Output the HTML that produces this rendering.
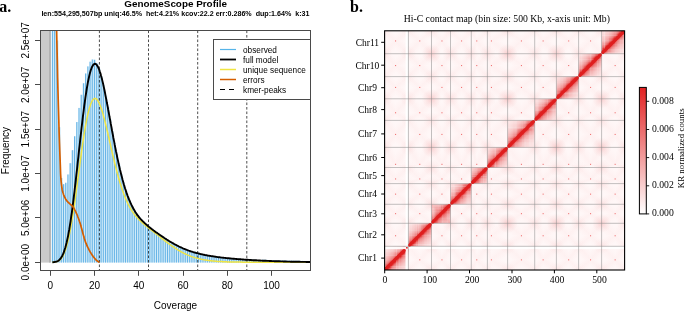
<!DOCTYPE html>
<html><head><meta charset="utf-8"><title>GenomeScope profile and Hi-C contact map</title>
<style>
html,body{margin:0;padding:0;background:#fff}
body{width:685px;height:311px;overflow:hidden}
svg text{fill:#000}
.s{font-family:"Liberation Sans",Arial,sans-serif;font-size:10px}
.t{font-family:"Liberation Sans",Arial,sans-serif;font-size:9.9px;font-weight:bold}
.u{font-family:"Liberation Sans",Arial,sans-serif;font-size:7.13px;font-weight:bold}
.l{font-family:"Liberation Sans",Arial,sans-serif;font-size:8.25px}
.a{font-family:"Liberation Sans",Arial,sans-serif;font-size:10px}
.p{font-family:"Liberation Serif","Times New Roman",serif;font-size:16px;font-weight:bold}
.r{font-family:"Liberation Serif","Times New Roman",serif;font-size:9.7px}
</style></head><body>
<svg width="685" height="311" viewBox="0 0 685 311" style="display:block;will-change:transform">
<rect width="685" height="311" fill="#fff"/>
<defs><clipPath id="ca"><rect x="40.5" y="30.5" width="270.1" height="239.9"/></clipPath></defs>
<g clip-path="url(#ca)">
<rect x="40.5" y="30.5" width="9.7" height="232.1" fill="#cbcbcb"/>
<rect x="49.3" y="30.5" width="1.5" height="232.1" fill="#a9a9a9"/>
<path d="M51.8,262.6 L51.8,28.5 L54.0,28.5 L54.0,28.5 L56.2,28.5 L56.2,40.5 L58.5,40.5 L58.5,127.2 L60.7,127.2 L60.7,178.0 L62.9,178.0 L62.9,184.2 L65.1,184.2 L65.1,182.8 L67.3,182.8 L67.3,174.5 L69.5,174.5 L69.5,163.2 L71.7,163.2 L71.7,150.2 L74.0,150.2 L74.0,136.3 L76.2,136.3 L76.2,122.1 L78.4,122.1 L78.4,107.9 L80.6,107.9 L80.6,94.8 L82.8,94.8 L82.8,83.3 L85.0,83.3 L85.0,73.5 L87.2,73.5 L87.2,66.4 L89.5,66.4 L89.5,61.7 L91.7,61.7 L91.7,59.5 L93.9,59.5 L93.9,59.8 L96.1,59.8 L96.1,63.1 L98.3,63.1 L98.3,68.8 L100.5,68.8 L100.5,75.9 L102.7,75.9 L102.7,85.0 L104.9,85.0 L105.0,95.6 L107.2,95.6 L107.2,107.1 L109.4,107.1 L109.4,119.2 L111.6,119.2 L111.6,131.3 L113.8,131.3 L113.8,143.0 L116.0,143.0 L116.0,154.2 L118.2,154.2 L118.2,164.5 L120.4,164.5 L120.4,173.8 L122.7,173.8 L122.7,182.2 L124.9,182.2 L124.9,189.6 L127.1,189.6 L127.1,196.0 L129.3,196.0 L129.3,201.5 L131.5,201.5 L131.5,206.2 L133.7,206.2 L133.7,210.3 L135.9,210.3 L135.9,213.8 L138.2,213.8 L138.2,216.8 L140.4,216.8 L140.4,219.4 L142.6,219.4 L142.6,221.7 L144.8,221.7 L144.8,223.8 L147.0,223.8 L147.0,225.7 L149.2,225.7 L149.2,227.5 L151.4,227.5 L151.4,229.2 L153.7,229.2 L153.7,230.9 L155.9,230.9 L155.9,232.5 L158.1,232.5 L158.1,234.1 L160.3,234.1 L160.3,235.6 L162.5,235.6 L162.5,237.1 L164.7,237.1 L164.7,238.6 L166.9,238.6 L166.9,240.0 L169.2,240.0 L169.2,241.4 L171.4,241.4 L171.4,242.7 L173.6,242.7 L173.6,244.0 L175.8,244.0 L175.8,245.2 L178.0,245.2 L178.0,246.3 L180.2,246.3 L180.2,247.4 L182.4,247.4 L182.4,248.3 L184.7,248.3 L184.7,249.3 L186.9,249.3 L186.9,250.1 L189.1,250.1 L189.1,250.9 L191.3,250.9 L191.3,251.7 L193.5,251.7 L193.5,252.3 L195.7,252.3 L195.7,253.0 L197.9,253.0 L197.9,253.5 L200.2,253.5 L200.2,254.1 L202.4,254.1 L202.4,254.6 L204.6,254.6 L204.6,255.0 L206.8,255.0 L206.8,255.4 L209.0,255.4 L209.0,255.8 L211.2,255.8 L211.2,256.2 L213.4,256.2 L213.4,256.5 L215.7,256.5 L215.7,256.8 L217.9,256.8 L217.9,257.1 L220.1,257.1 L220.1,257.4 L222.3,257.4 L222.3,257.7 L224.5,257.7 L224.5,257.9 L226.7,257.9 L226.7,258.2 L228.9,258.2 L228.9,257.9 L231.1,257.9 L231.1,258.1 L233.4,258.1 L233.4,258.3 L235.6,258.3 L235.6,258.5 L237.8,258.5 L237.8,258.7 L240.0,258.7 L240.0,258.9 L242.2,258.9 L242.2,259.1 L244.4,259.1 L244.4,259.2 L246.6,259.2 L246.6,259.4 L248.9,259.4 L248.9,259.5 L251.1,259.5 L251.1,259.6 L253.3,259.6 L253.3,259.8 L255.5,259.8 L255.5,259.9 L257.7,259.9 L257.7,260.0 L259.9,260.0 L259.9,260.1 L262.1,260.1 L262.1,259.7 L264.4,259.7 L264.4,259.8 L266.6,259.8 L266.6,259.9 L268.8,259.9 L268.8,260.0 L271.0,260.0 L271.0,260.1 L273.2,260.1 L273.2,260.2 L275.4,260.2 L275.4,260.2 L277.6,260.2 L277.6,260.3 L279.9,260.3 L279.9,260.4 L282.1,260.4 L282.1,260.5 L284.3,260.5 L284.3,260.5 L286.5,260.5 L286.5,260.6 L288.7,260.6 L288.7,260.7 L290.9,260.7 L290.9,260.7 L293.1,260.7 L293.1,260.8 L295.4,260.8 L295.4,260.8 L297.6,260.8 L297.6,260.8 L299.8,260.8 L299.8,260.9 L302.0,260.9 L302.0,260.9 L304.2,260.9 L304.2,261.0 L306.4,261.0 L306.4,261.0 L308.6,261.0 L308.6,261.0 L310.9,261.0 L310.9,261.0 L312.1,261.0 L313.1,261.1 L314.3,261.1 L314.3,262.6 Z" fill="#56b4e9" fill-opacity="0.27" stroke="none"/>
<path d="M52.41,262.6V28.5M54.63,262.6V28.5M56.84,262.6V40.5M59.06,262.6V127.2M61.27,262.6V178.0M63.48,262.6V184.2M65.70,262.6V182.8M67.91,262.6V174.5M70.13,262.6V163.2M72.34,262.6V150.2M74.55,262.6V136.3M76.77,262.6V122.1M78.98,262.6V107.9M81.20,262.6V94.8M83.41,262.6V83.3M85.62,262.6V73.5M87.84,262.6V66.4M90.05,262.6V61.7M92.27,262.6V59.5M94.48,262.6V59.8M96.69,262.6V63.1M98.91,262.6V68.8M101.12,262.6V75.9M103.34,262.6V85.0M105.55,262.6V95.6M107.76,262.6V107.1M109.98,262.6V119.2M112.19,262.6V131.3M114.41,262.6V143.0M116.62,262.6V154.2M118.83,262.6V164.5M121.05,262.6V173.8M123.26,262.6V182.2M125.48,262.6V189.6M127.69,262.6V196.0M129.90,262.6V201.5M132.12,262.6V206.2M134.33,262.6V210.3M136.55,262.6V213.8M138.76,262.6V216.8M140.97,262.6V219.4M143.19,262.6V221.7M145.40,262.6V223.8M147.62,262.6V225.7M149.83,262.6V227.5M152.04,262.6V229.2M154.26,262.6V230.9M156.47,262.6V232.5M158.69,262.6V234.1M160.90,262.6V235.6M163.11,262.6V237.1M165.33,262.6V238.6M167.54,262.6V240.0M169.76,262.6V241.4M171.97,262.6V242.7M174.18,262.6V244.0M176.40,262.6V245.2M178.61,262.6V246.3M180.83,262.6V247.4M183.04,262.6V248.3M185.25,262.6V249.3M187.47,262.6V250.1M189.68,262.6V250.9M191.90,262.6V251.7M194.11,262.6V252.3M196.32,262.6V253.0M198.54,262.6V253.5M200.75,262.6V254.1M202.97,262.6V254.6M205.18,262.6V255.0M207.39,262.6V255.4M209.61,262.6V255.8M211.82,262.6V256.2M214.04,262.6V256.5M216.25,262.6V256.8M218.46,262.6V257.1M220.68,262.6V257.4M222.89,262.6V257.7M225.11,262.6V257.9M227.32,262.6V258.2M229.53,262.6V257.9M231.75,262.6V258.1M233.96,262.6V258.3M236.18,262.6V258.5M238.39,262.6V258.7M240.60,262.6V258.9M242.82,262.6V259.1M245.03,262.6V259.2M247.25,262.6V259.4M249.46,262.6V259.5M251.67,262.6V259.6M253.89,262.6V259.8M256.10,262.6V259.9M258.32,262.6V260.0M260.53,262.6V260.1M262.74,262.6V259.7M264.96,262.6V259.8M267.17,262.6V259.9M269.39,262.6V260.0M271.60,262.6V260.1M273.81,262.6V260.2M276.03,262.6V260.2M278.24,262.6V260.3M280.46,262.6V260.4M282.67,262.6V260.5M284.88,262.6V260.5M287.10,262.6V260.6M289.31,262.6V260.7M291.53,262.6V260.7M293.74,262.6V260.8M295.95,262.6V260.8M298.17,262.6V260.8M300.38,262.6V260.9M302.60,262.6V260.9M304.81,262.6V261.0M307.02,262.6V261.0M309.24,262.6V261.0M311.45,262.6V261.0M313.67,262.6V261.1" stroke="#47a3e0" stroke-width="0.8" fill="none"/>
<line x1="99.4" y1="30.5" x2="99.4" y2="270.4" stroke="#000" stroke-width="0.7" stroke-dasharray="2.6 1.9"/>
<line x1="148.5" y1="30.5" x2="148.5" y2="270.4" stroke="#000" stroke-width="0.7" stroke-dasharray="2.6 1.9"/>
<line x1="197.7" y1="30.5" x2="197.7" y2="270.4" stroke="#000" stroke-width="0.7" stroke-dasharray="2.6 1.9"/>
<line x1="246.8" y1="30.5" x2="246.8" y2="270.4" stroke="#000" stroke-width="0.7" stroke-dasharray="2.6 1.9"/>
<path d="M52.4,262.2 L53.1,262.2 L53.7,262.1 L54.4,262.1 L55.0,262.0 L55.7,261.9 L56.3,261.7 L57.0,261.5 L57.6,261.3 L58.3,260.9 L58.9,260.6 L59.6,260.1 L60.2,259.5 L60.9,258.8 L61.5,258.0 L62.2,257.1 L62.8,256.0 L63.5,254.8 L64.1,253.3 L64.7,251.8 L65.4,250.0 L66.0,248.0 L66.7,245.8 L67.3,243.4 L68.0,240.8 L68.6,238.0 L69.3,235.0 L69.9,231.8 L70.6,228.3 L71.2,224.7 L71.9,220.9 L72.5,216.9 L73.2,212.7 L73.8,208.4 L74.5,203.9 L75.1,199.4 L75.8,194.7 L76.4,189.9 L77.1,185.1 L77.7,180.2 L78.4,175.3 L79.0,170.4 L79.7,165.5 L80.3,160.6 L81.0,155.9 L81.6,151.2 L82.3,146.6 L82.9,142.1 L83.6,137.8 L84.2,133.7 L84.9,129.7 L85.5,125.9 L86.2,122.3 L86.8,119.0 L87.5,115.9 L88.1,113.0 L88.8,110.4 L89.4,108.0 L90.1,105.9 L90.7,104.0 L91.4,102.5 L92.0,101.1 L92.7,100.1 L93.3,99.3 L94.0,98.8 L94.6,98.5 L95.3,98.5 L95.9,98.7 L96.6,99.1 L97.2,99.8 L97.9,100.7 L98.5,101.8 L99.2,103.1 L99.8,104.6 L100.5,106.2 L101.1,108.1 L101.8,110.0 L102.4,112.1 L103.1,114.4 L103.7,116.7 L104.4,119.1 L105.0,121.7 L105.6,124.3 L106.3,126.9 L106.9,129.7 L107.6,132.4 L108.2,135.2 L108.9,138.0 L109.5,140.9 L110.2,143.7 L110.8,146.6 L111.5,149.4 L112.1,152.2 L112.8,155.0 L113.4,157.7 L114.1,160.4 L114.7,163.1 L115.4,165.7 L116.0,168.3 L116.7,170.8 L117.3,173.3 L118.0,175.6 L118.6,178.0 L119.3,180.2 L119.9,182.4 L120.6,184.5 L121.2,186.6 L121.9,188.5 L122.5,190.5 L123.2,192.3 L123.8,194.1 L124.5,195.8 L125.1,197.4 L125.8,199.0 L126.4,200.5 L127.1,201.9 L127.7,203.3 L128.4,204.6 L129.0,205.8 L129.7,207.0 L130.3,208.2 L131.0,209.3 L131.6,210.3 L132.3,211.4 L132.9,212.3 L133.6,213.2 L134.2,214.1 L134.9,215.0 L135.5,215.8 L136.2,216.6 L136.8,217.3 L137.5,218.0 L138.1,218.7 L138.8,219.4 L139.4,220.1 L140.1,220.7 L140.7,221.3 L141.4,221.9 L142.0,222.5 L142.7,223.1 L143.3,223.6 L144.0,224.2 L144.6,224.7 L145.3,225.3 L145.9,225.8 L146.6,226.3 L147.2,226.8 L147.8,227.3 L148.5,227.9 L149.1,228.4 L149.8,228.9 L150.4,229.4 L151.1,229.9 L151.7,230.4 L152.4,230.9 L153.0,231.4 L153.7,231.9 L154.3,232.4 L155.0,232.9 L155.6,233.5 L156.3,234.0 L156.9,234.5 L157.6,235.0 L158.2,235.5 L158.9,236.0 L159.5,236.5 L160.2,237.0 L160.8,237.6 L161.5,238.1 L162.1,238.6 L162.8,239.1 L163.4,239.6 L164.1,240.1 L164.7,240.6 L165.4,241.1 L166.0,241.6 L166.7,242.1 L167.3,242.6 L168.0,243.1 L168.6,243.6 L169.3,244.0 L169.9,244.5 L170.6,245.0 L171.2,245.4 L171.9,245.9 L172.5,246.4 L173.2,246.8 L173.8,247.2 L174.5,247.7 L175.1,248.1 L175.8,248.5 L176.4,249.0 L177.1,249.4 L177.7,249.8 L178.4,250.2 L179.0,250.5 L179.7,250.9 L180.3,251.3 L181.0,251.7 L181.6,252.0 L182.3,252.4 L182.9,252.7 L183.6,253.0 L184.2,253.4 L184.9,253.7 L185.5,254.0 L186.2,254.3 L186.8,254.6 L187.5,254.9 L188.1,255.1 L188.7,255.4 L189.4,255.7 L190.0,255.9 L190.7,256.2 L191.3,256.4 L192.0,256.6 L192.6,256.9 L193.3,257.1 L193.9,257.3 L194.6,257.5 L195.2,257.7 L195.9,257.9 L196.5,258.1 L197.2,258.2 L197.8,258.4 L198.5,258.6 L199.1,258.7 L199.8,258.9 L200.4,259.0 L201.1,259.2 L201.7,259.3 L202.4,259.4 L203.0,259.6 L203.7,259.7 L204.3,259.8 L205.0,259.9 L205.6,260.0 L206.3,260.1 L206.9,260.2 L207.6,260.3 L208.2,260.4 L208.9,260.5 L209.5,260.6 L210.2,260.7 L210.8,260.8 L211.5,260.8 L212.1,260.9 L212.8,261.0 L213.4,261.0 L214.1,261.1 L214.7,261.2 L215.4,261.2 L216.0,261.3 L216.7,261.3 L217.3,261.4 L218.0,261.4 L218.6,261.5 L219.3,261.5 L219.9,261.5 L220.6,261.6 L221.2,261.6 L221.9,261.6 L222.5,261.7 L223.2,261.7 L223.8,261.7 L224.5,261.8 L225.1,261.8 L225.8,261.8 L226.4,261.8 L227.1,261.9 L227.7,261.9 L228.4,261.9 L229.0,261.9 L229.7,261.9 L230.3,262.0 L230.9,262.0 L231.6,262.0 L232.2,262.0 L232.9,262.0 L233.5,262.0 L234.2,262.0 L234.8,262.1 L235.5,262.1 L236.1,262.1 L236.8,262.1 L237.4,262.1 L238.1,262.1 L238.7,262.1 L239.4,262.1 L240.0,262.1 L240.7,262.1 L241.3,262.1 L242.0,262.2 L242.6,262.2 L243.3,262.2 L243.9,262.2 L244.6,262.2 L245.2,262.2 L245.9,262.2 L246.5,262.2 L247.2,262.2 L247.8,262.2 L248.5,262.2 L249.1,262.2 L249.8,262.2 L250.4,262.2 L251.1,262.2 L251.7,262.2 L252.4,262.2 L253.0,262.2 L253.7,262.2 L254.3,262.2 L255.0,262.2 L255.6,262.2 L256.3,262.2 L256.9,262.2 L257.6,262.2 L258.2,262.2 L258.9,262.2 L259.5,262.2 L260.2,262.2 L260.8,262.2 L261.5,262.2 L262.1,262.2 L262.8,262.2 L263.4,262.2 L264.1,262.2 L264.7,262.2 L265.4,262.2 L266.0,262.2 L266.7,262.2 L267.3,262.2 L268.0,262.2 L268.6,262.2 L269.3,262.2 L269.9,262.2 L270.6,262.2 L271.2,262.2 L271.8,262.2 L272.5,262.2 L273.1,262.2 L273.8,262.2 L274.4,262.2 L275.1,262.2 L275.7,262.2 L276.4,262.2 L277.0,262.2 L277.7,262.2 L278.3,262.2 L279.0,262.2 L279.6,262.2 L280.3,262.2 L280.9,262.2 L281.6,262.2 L282.2,262.2 L282.9,262.2 L283.5,262.2 L284.2,262.2 L284.8,262.2 L285.5,262.2 L286.1,262.2 L286.8,262.2 L287.4,262.2 L288.1,262.2 L288.7,262.2 L289.4,262.2 L290.0,262.2 L290.7,262.2 L291.3,262.2 L292.0,262.2 L292.6,262.2 L293.3,262.2 L293.9,262.2 L294.6,262.2 L295.2,262.2 L295.9,262.2 L296.5,262.2 L297.2,262.2 L297.8,262.2 L298.5,262.2 L299.1,262.2 L299.8,262.2 L300.4,262.2 L301.1,262.2 L301.7,262.2 L302.4,262.2 L303.0,262.2 L303.7,262.2 L304.3,262.2 L305.0,262.2 L305.6,262.2 L306.3,262.2 L306.9,262.2 L307.6,262.2 L308.2,262.2 L308.9,262.2 L309.5,262.2 L310.2,262.2 L310.8,262.2 L311.5,262.2" stroke="#f0e442" stroke-width="1.5" fill="none" stroke-linejoin="round"/>
<path d="M52.4,262.2 L53.1,262.2 L53.7,262.1 L54.4,262.0 L55.0,261.9 L55.7,261.8 L56.3,261.6 L57.0,261.4 L57.6,261.1 L58.3,260.7 L58.9,260.2 L59.6,259.6 L60.2,258.9 L60.9,258.1 L61.5,257.1 L62.2,256.0 L62.8,254.7 L63.5,253.2 L64.1,251.4 L64.7,249.5 L65.4,247.3 L66.0,245.0 L66.7,242.3 L67.3,239.4 L68.0,236.3 L68.6,232.9 L69.3,229.2 L69.9,225.3 L70.6,221.1 L71.2,216.7 L71.9,212.1 L72.5,207.2 L73.2,202.1 L73.8,196.9 L74.5,191.5 L75.1,185.9 L75.8,180.2 L76.4,174.4 L77.1,168.6 L77.7,162.6 L78.4,156.7 L79.0,150.7 L79.7,144.8 L80.3,138.9 L81.0,133.2 L81.6,127.5 L82.3,121.9 L82.9,116.5 L83.6,111.3 L84.2,106.2 L84.9,101.4 L85.5,96.8 L86.2,92.5 L86.8,88.5 L87.5,84.7 L88.1,81.2 L88.8,78.0 L89.4,75.2 L90.1,72.6 L90.7,70.4 L91.4,68.5 L92.0,66.9 L92.7,65.7 L93.3,64.7 L94.0,64.1 L94.6,63.8 L95.3,63.8 L95.9,64.1 L96.6,64.7 L97.2,65.6 L97.9,66.7 L98.5,68.1 L99.2,69.7 L99.8,71.6 L100.5,73.6 L101.1,75.9 L101.8,78.3 L102.4,80.9 L103.1,83.7 L103.7,86.6 L104.4,89.7 L105.0,92.8 L105.6,96.1 L106.3,99.4 L106.9,102.8 L107.6,106.2 L108.2,109.7 L108.9,113.3 L109.5,116.8 L110.2,120.4 L110.8,123.9 L111.5,127.5 L112.1,131.0 L112.8,134.5 L113.4,138.0 L114.1,141.4 L114.7,144.7 L115.4,148.1 L116.0,151.3 L116.7,154.5 L117.3,157.6 L118.0,160.6 L118.6,163.6 L119.3,166.4 L119.9,169.2 L120.6,171.9 L121.2,174.6 L121.9,177.1 L122.5,179.5 L123.2,181.9 L123.8,184.2 L124.5,186.4 L125.1,188.5 L125.8,190.5 L126.4,192.4 L127.1,194.3 L127.7,196.1 L128.4,197.8 L129.0,199.4 L129.7,201.0 L130.3,202.4 L131.0,203.9 L131.6,205.2 L132.3,206.5 L132.9,207.8 L133.6,209.0 L134.2,210.1 L134.9,211.2 L135.5,212.2 L136.2,213.2 L136.8,214.1 L137.5,215.1 L138.1,215.9 L138.8,216.8 L139.4,217.6 L140.1,218.3 L140.7,219.1 L141.4,219.8 L142.0,220.5 L142.7,221.2 L143.3,221.8 L144.0,222.4 L144.6,223.0 L145.3,223.6 L145.9,224.2 L146.6,224.8 L147.2,225.3 L147.8,225.9 L148.5,226.4 L149.1,227.0 L149.8,227.5 L150.4,228.0 L151.1,228.5 L151.7,229.0 L152.4,229.5 L153.0,230.0 L153.7,230.5 L154.3,230.9 L155.0,231.4 L155.6,231.9 L156.3,232.4 L156.9,232.8 L157.6,233.3 L158.2,233.7 L158.9,234.2 L159.5,234.7 L160.2,235.1 L160.8,235.6 L161.5,236.0 L162.1,236.4 L162.8,236.9 L163.4,237.3 L164.1,237.8 L164.7,238.2 L165.4,238.6 L166.0,239.0 L166.7,239.5 L167.3,239.9 L168.0,240.3 L168.6,240.7 L169.3,241.1 L169.9,241.5 L170.6,241.9 L171.2,242.3 L171.9,242.7 L172.5,243.0 L173.2,243.4 L173.8,243.8 L174.5,244.1 L175.1,244.5 L175.8,244.8 L176.4,245.2 L177.1,245.5 L177.7,245.8 L178.4,246.2 L179.0,246.5 L179.7,246.8 L180.3,247.1 L181.0,247.4 L181.6,247.7 L182.3,248.0 L182.9,248.3 L183.6,248.6 L184.2,248.8 L184.9,249.1 L185.5,249.4 L186.2,249.6 L186.8,249.9 L187.5,250.1 L188.1,250.4 L188.7,250.6 L189.4,250.8 L190.0,251.0 L190.7,251.3 L191.3,251.5 L192.0,251.7 L192.6,251.9 L193.3,252.1 L193.9,252.3 L194.6,252.5 L195.2,252.7 L195.9,252.8 L196.5,253.0 L197.2,253.2 L197.8,253.4 L198.5,253.5 L199.1,253.7 L199.8,253.8 L200.4,254.0 L201.1,254.1 L201.7,254.3 L202.4,254.4 L203.0,254.6 L203.7,254.7 L204.3,254.8 L205.0,255.0 L205.6,255.1 L206.3,255.2 L206.9,255.3 L207.6,255.5 L208.2,255.6 L208.9,255.7 L209.5,255.8 L210.2,255.9 L210.8,256.0 L211.5,256.1 L212.1,256.2 L212.8,256.3 L213.4,256.4 L214.1,256.5 L214.7,256.6 L215.4,256.7 L216.0,256.8 L216.7,256.9 L217.3,257.0 L218.0,257.1 L218.6,257.2 L219.3,257.2 L219.9,257.3 L220.6,257.4 L221.2,257.5 L221.9,257.6 L222.5,257.6 L223.2,257.7 L223.8,257.8 L224.5,257.9 L225.1,257.9 L225.8,258.0 L226.4,258.1 L227.1,258.1 L227.7,258.2 L228.4,258.3 L229.0,258.3 L229.7,258.4 L230.3,258.5 L230.9,258.5 L231.6,258.6 L232.2,258.6 L232.9,258.7 L233.5,258.8 L234.2,258.8 L234.8,258.9 L235.5,258.9 L236.1,259.0 L236.8,259.0 L237.4,259.1 L238.1,259.1 L238.7,259.2 L239.4,259.2 L240.0,259.3 L240.7,259.3 L241.3,259.4 L242.0,259.4 L242.6,259.5 L243.3,259.5 L243.9,259.6 L244.6,259.6 L245.2,259.7 L245.9,259.7 L246.5,259.8 L247.2,259.8 L247.8,259.8 L248.5,259.9 L249.1,259.9 L249.8,260.0 L250.4,260.0 L251.1,260.0 L251.7,260.1 L252.4,260.1 L253.0,260.2 L253.7,260.2 L254.3,260.2 L255.0,260.3 L255.6,260.3 L256.3,260.3 L256.9,260.4 L257.6,260.4 L258.2,260.4 L258.9,260.5 L259.5,260.5 L260.2,260.5 L260.8,260.6 L261.5,260.6 L262.1,260.6 L262.8,260.7 L263.4,260.7 L264.1,260.7 L264.7,260.8 L265.4,260.8 L266.0,260.8 L266.7,260.9 L267.3,260.9 L268.0,260.9 L268.6,260.9 L269.3,261.0 L269.9,261.0 L270.6,261.0 L271.2,261.0 L271.8,261.1 L272.5,261.1 L273.1,261.1 L273.8,261.1 L274.4,261.2 L275.1,261.2 L275.7,261.2 L276.4,261.2 L277.0,261.3 L277.7,261.3 L278.3,261.3 L279.0,261.3 L279.6,261.3 L280.3,261.4 L280.9,261.4 L281.6,261.4 L282.2,261.4 L282.9,261.4 L283.5,261.5 L284.2,261.5 L284.8,261.5 L285.5,261.5 L286.1,261.5 L286.8,261.6 L287.4,261.6 L288.1,261.6 L288.7,261.6 L289.4,261.6 L290.0,261.6 L290.7,261.7 L291.3,261.7 L292.0,261.7 L292.6,261.7 L293.3,261.7 L293.9,261.7 L294.6,261.7 L295.2,261.8 L295.9,261.8 L296.5,261.8 L297.2,261.8 L297.8,261.8 L298.5,261.8 L299.1,261.8 L299.8,261.8 L300.4,261.9 L301.1,261.9 L301.7,261.9 L302.4,261.9 L303.0,261.9 L303.7,261.9 L304.3,261.9 L305.0,261.9 L305.6,261.9 L306.3,262.0 L306.9,262.0 L307.6,262.0 L308.2,262.0 L308.9,262.0 L309.5,262.0 L310.2,262.0 L310.8,262.0 L311.5,262.0" stroke="#000" stroke-width="1.9" fill="none" stroke-linejoin="round"/>
<path d="M54.6,-92.6 L55.0,-66.3 L55.4,-41.0 L55.8,-17.2 L56.1,4.9 L56.5,25.1 L56.9,43.2 L57.3,60.4 L57.6,76.7 L58.0,92.0 L58.4,106.4 L58.8,119.7 L59.1,132.0 L59.5,143.3 L59.9,154.4 L60.3,164.8 L60.6,173.7 L61.0,180.1 L61.4,183.9 L61.8,186.9 L62.1,189.2 L62.5,191.0 L62.9,192.4 L63.3,193.6 L63.6,194.7 L64.0,195.7 L64.4,196.6 L64.8,197.5 L65.2,198.2 L65.5,198.9 L65.9,199.5 L66.3,200.1 L66.7,200.6 L67.0,201.1 L67.4,201.5 L67.8,201.9 L68.2,202.3 L68.5,202.6 L68.9,203.0 L69.3,203.3 L69.7,203.7 L70.0,204.0 L70.4,204.4 L70.8,204.7 L71.2,205.0 L71.5,205.3 L71.9,205.7 L72.3,206.1 L72.7,206.5 L73.0,207.0 L73.4,207.5 L73.8,208.1 L74.2,208.7 L74.5,209.4 L74.9,210.1 L75.3,210.9 L75.7,211.7 L76.0,212.5 L76.4,213.3 L76.8,214.1 L77.2,215.0 L77.6,216.0 L77.9,217.0 L78.3,218.0 L78.7,219.0 L79.1,220.1 L79.4,221.2 L79.8,222.3 L80.2,223.5 L80.6,224.8 L80.9,226.1 L81.3,227.4 L81.7,228.8 L82.1,230.2 L82.4,231.6 L82.8,233.0 L83.2,234.4 L83.6,235.8 L83.9,237.1 L84.3,238.4 L84.7,239.6 L85.1,240.8 L85.4,241.9 L85.8,242.8 L86.2,243.7 L86.6,244.6 L86.9,245.5 L87.3,246.3 L87.7,247.1 L88.1,247.9 L88.5,248.6 L88.8,249.4 L89.2,250.1 L89.6,250.8 L90.0,251.5 L90.3,252.1 L90.7,252.7 L91.1,253.4 L91.5,254.0 L91.8,254.5 L92.2,255.1 L92.6,255.6 L93.0,256.2 L93.3,256.7 L93.7,257.2 L94.1,257.7 L94.5,258.1 L94.8,258.6 L95.2,259.0 L95.6,259.4 L96.0,259.8 L96.3,260.2 L96.7,260.5 L97.1,260.8 L97.5,261.1 L97.8,261.4 L98.2,261.6 L98.6,261.9 L99.0,262.1 L99.4,262.2" stroke="#d55e00" stroke-width="1.7" fill="none" stroke-linejoin="round"/>
</g>
<rect x="40.5" y="30.5" width="270" height="240" fill="none" stroke="#4a4a4a" stroke-width="1"/>
<rect x="213.5" y="39.5" width="97" height="60" fill="#fff" stroke="#4a4a4a" stroke-width="1"/>
<line x1="220" y1="49.5" x2="236" y2="49.5" stroke="#56b4e9" stroke-width="1.2"/>
<text x="243" y="53.0" class="l">observed</text>
<line x1="220" y1="59.5" x2="236" y2="59.5" stroke="#000" stroke-width="1.8"/>
<text x="243" y="63.0" class="l">full model</text>
<line x1="220" y1="69.5" x2="236" y2="69.5" stroke="#f0e442" stroke-width="1.5"/>
<text x="243" y="73.0" class="l">unique sequence</text>
<line x1="220" y1="79.5" x2="236" y2="79.5" stroke="#d55e00" stroke-width="1.5"/>
<text x="243" y="83.0" class="l">errors</text>
<line x1="220" y1="89.5" x2="236" y2="89.5" stroke="#000" stroke-width="1.0" stroke-dasharray="5 4"/>
<text x="243" y="93.0" class="l">kmer-peaks</text>
<line x1="50.5" y1="270.4" x2="50.5" y2="275.8" stroke="#4a4a4a" stroke-width="1"/>
<text x="50.2" y="289" class="s" text-anchor="middle">0</text>
<line x1="94.5" y1="270.4" x2="94.5" y2="275.8" stroke="#4a4a4a" stroke-width="1"/>
<text x="94.5" y="289" class="s" text-anchor="middle">20</text>
<line x1="138.5" y1="270.4" x2="138.5" y2="275.8" stroke="#4a4a4a" stroke-width="1"/>
<text x="138.8" y="289" class="s" text-anchor="middle">40</text>
<line x1="183.5" y1="270.4" x2="183.5" y2="275.8" stroke="#4a4a4a" stroke-width="1"/>
<text x="183.0" y="289" class="s" text-anchor="middle">60</text>
<line x1="227.5" y1="270.4" x2="227.5" y2="275.8" stroke="#4a4a4a" stroke-width="1"/>
<text x="227.3" y="289" class="s" text-anchor="middle">80</text>
<line x1="271.5" y1="270.4" x2="271.5" y2="275.8" stroke="#4a4a4a" stroke-width="1"/>
<text x="271.6" y="289" class="s" text-anchor="middle">100</text>
<line x1="35.0" y1="262.5" x2="40.5" y2="262.5" stroke="#4a4a4a" stroke-width="1"/>
<text transform="translate(28.5,262.2) rotate(-90)" class="s" text-anchor="middle">0.0e+00</text>
<line x1="35.0" y1="217.5" x2="40.5" y2="217.5" stroke="#4a4a4a" stroke-width="1"/>
<text transform="translate(28.5,217.9) rotate(-90)" class="s" text-anchor="middle">5.0e+06</text>
<line x1="35.0" y1="173.5" x2="40.5" y2="173.5" stroke="#4a4a4a" stroke-width="1"/>
<text transform="translate(28.5,173.5) rotate(-90)" class="s" text-anchor="middle">1.0e+07</text>
<line x1="35.0" y1="129.5" x2="40.5" y2="129.5" stroke="#4a4a4a" stroke-width="1"/>
<text transform="translate(28.5,129.2) rotate(-90)" class="s" text-anchor="middle">1.5e+07</text>
<line x1="35.0" y1="84.5" x2="40.5" y2="84.5" stroke="#4a4a4a" stroke-width="1"/>
<text transform="translate(28.5,84.8) rotate(-90)" class="s" text-anchor="middle">2.0e+07</text>
<line x1="35.0" y1="40.5" x2="40.5" y2="40.5" stroke="#4a4a4a" stroke-width="1"/>
<text transform="translate(28.5,40.4) rotate(-90)" class="s" text-anchor="middle">2.5e+07</text>
<text transform="translate(8.6,150.5) rotate(-90)" class="a" text-anchor="middle">Frequency</text>
<text x="175.5" y="309" class="a" text-anchor="middle">Coverage</text>
<text x="175.6" y="7.1" class="t" text-anchor="middle">GenomeScope Profile</text>
<text x="41.4" y="16.3" class="u" xml:space="preserve">len:554,295,507bp uniq:46.5%  het:4.21% kcov:22.2 err:0.286%  dup:1.64%  k:31</text>
<text x="-0.8" y="11.9" class="p">a.</text>
<text x="350.0" y="12.1" class="p">b.</text>
<defs>
<clipPath id="cb"><rect x="384.6" y="30.8" width="240.0" height="239.2"/></clipPath>
<linearGradient id="gD" gradientUnits="userSpaceOnUse" x1="384.6" y1="30.8" x2="624.6" y2="270.0"><stop offset="0.4375" stop-color="#fef2f2"/><stop offset="0.4542" stop-color="#fde9e9"/><stop offset="0.4646" stop-color="#fbdddd"/><stop offset="0.4729" stop-color="#f9cfcf"/><stop offset="0.4813" stop-color="#f5b4b4"/><stop offset="0.4865" stop-color="#f19a9a"/><stop offset="0.4904" stop-color="#ee8080"/><stop offset="0.4929" stop-color="#ea6262"/><stop offset="0.4946" stop-color="#e54040"/><stop offset="0.4963" stop-color="#e02323"/><stop offset="0.5000" stop-color="#df1e1e"/><stop offset="0.5038" stop-color="#e02323"/><stop offset="0.5054" stop-color="#e54040"/><stop offset="0.5071" stop-color="#ea6262"/><stop offset="0.5096" stop-color="#ee8080"/><stop offset="0.5135" stop-color="#f19a9a"/><stop offset="0.5188" stop-color="#f5b4b4"/><stop offset="0.5271" stop-color="#f9cfcf"/><stop offset="0.5354" stop-color="#fbdddd"/><stop offset="0.5458" stop-color="#fde9e9"/><stop offset="0.5625" stop-color="#fef2f2"/></linearGradient>
<linearGradient id="gA" x1="0" y1="0" x2="1" y2="1">
<stop offset="0.15" stop-color="#f08c8c" stop-opacity="0"/><stop offset="0.5" stop-color="#f08c8c" stop-opacity="0.055"/><stop offset="0.85" stop-color="#f08c8c" stop-opacity="0"/>
</linearGradient>
<linearGradient id="gB" x1="0" y1="1" x2="1" y2="0">
<stop offset="0.15" stop-color="#f08c8c" stop-opacity="0"/><stop offset="0.5" stop-color="#f08c8c" stop-opacity="0.055"/><stop offset="0.85" stop-color="#f08c8c" stop-opacity="0"/>
</linearGradient>
<linearGradient id="gE" x1="0" y1="1" x2="1" y2="0">
<stop offset="0.3" stop-color="#ee7070" stop-opacity="0"/><stop offset="0.5" stop-color="#ee7070" stop-opacity="0.38"/><stop offset="0.7" stop-color="#ee7070" stop-opacity="0"/>
</linearGradient>
<radialGradient id="gC"><stop offset="0" stop-color="#ee8888" stop-opacity="0.40"/><stop offset="0.5" stop-color="#ee8888" stop-opacity="0.16"/><stop offset="1" stop-color="#ee8888" stop-opacity="0"/></radialGradient>
<linearGradient id="gBar" x1="0" y1="1" x2="0" y2="0"><stop offset="0" stop-color="#ffffff"/><stop offset="1" stop-color="#e22222"/></linearGradient>
</defs>
<g clip-path="url(#cb)">
<rect x="384.6" y="30.8" width="240.0" height="239.2" fill="#fff7f7"/>
<rect x="384.6" y="223.3" width="10.9" height="12.5" fill="url(#gB)"/>
<rect x="395.5" y="223.3" width="12.9" height="12.5" fill="url(#gA)"/>
<rect x="384.6" y="235.8" width="10.9" height="10.5" fill="url(#gA)"/>
<rect x="395.5" y="235.8" width="12.9" height="10.5" fill="url(#gB)"/>
<rect x="384.6" y="204.3" width="10.9" height="9.3" fill="url(#gB)"/>
<rect x="395.5" y="204.3" width="12.9" height="9.3" fill="url(#gA)"/>
<rect x="384.6" y="213.6" width="10.9" height="9.6" fill="url(#gA)"/>
<rect x="395.5" y="213.6" width="12.9" height="9.6" fill="url(#gB)"/>
<rect x="384.6" y="183.6" width="10.9" height="10.5" fill="url(#gB)"/>
<rect x="395.5" y="183.6" width="12.9" height="10.5" fill="url(#gA)"/>
<rect x="384.6" y="194.1" width="10.9" height="10.2" fill="url(#gA)"/>
<rect x="395.5" y="194.1" width="12.9" height="10.2" fill="url(#gB)"/>
<rect x="384.6" y="167.5" width="10.9" height="11.4" fill="url(#gB)"/>
<rect x="395.5" y="167.5" width="12.9" height="11.4" fill="url(#gA)"/>
<rect x="384.6" y="178.9" width="10.9" height="4.7" fill="url(#gA)"/>
<rect x="395.5" y="178.9" width="12.9" height="4.7" fill="url(#gB)"/>
<rect x="384.6" y="147.4" width="10.9" height="16.9" fill="url(#gB)"/>
<rect x="395.5" y="147.4" width="12.9" height="16.9" fill="url(#gA)"/>
<rect x="384.6" y="164.3" width="10.9" height="3.2" fill="url(#gA)"/>
<rect x="395.5" y="164.3" width="12.9" height="3.2" fill="url(#gB)"/>
<rect x="384.6" y="120.4" width="10.9" height="14.0" fill="url(#gB)"/>
<rect x="395.5" y="120.4" width="12.9" height="14.0" fill="url(#gA)"/>
<rect x="384.6" y="134.4" width="10.9" height="13.0" fill="url(#gA)"/>
<rect x="395.5" y="134.4" width="12.9" height="13.0" fill="url(#gB)"/>
<rect x="384.6" y="98.8" width="10.9" height="14.0" fill="url(#gB)"/>
<rect x="395.5" y="98.8" width="12.9" height="14.0" fill="url(#gA)"/>
<rect x="384.6" y="112.8" width="10.9" height="7.6" fill="url(#gA)"/>
<rect x="395.5" y="112.8" width="12.9" height="7.6" fill="url(#gB)"/>
<rect x="384.6" y="76.6" width="10.9" height="10.8" fill="url(#gB)"/>
<rect x="395.5" y="76.6" width="12.9" height="10.8" fill="url(#gA)"/>
<rect x="384.6" y="87.4" width="10.9" height="11.4" fill="url(#gA)"/>
<rect x="395.5" y="87.4" width="12.9" height="11.4" fill="url(#gB)"/>
<rect x="384.6" y="53.7" width="10.9" height="11.8" fill="url(#gB)"/>
<rect x="395.5" y="53.7" width="12.9" height="11.8" fill="url(#gA)"/>
<rect x="384.6" y="65.5" width="10.9" height="11.1" fill="url(#gA)"/>
<rect x="395.5" y="65.5" width="12.9" height="11.1" fill="url(#gB)"/>
<rect x="384.6" y="30.8" width="10.9" height="10.2" fill="url(#gB)"/>
<rect x="395.5" y="30.8" width="12.9" height="10.2" fill="url(#gA)"/>
<rect x="384.6" y="41.0" width="10.9" height="12.7" fill="url(#gA)"/>
<rect x="395.5" y="41.0" width="12.9" height="12.7" fill="url(#gB)"/>
<rect x="408.4" y="246.3" width="11.3" height="13.6" fill="url(#gB)"/>
<rect x="419.7" y="246.3" width="11.8" height="13.6" fill="url(#gA)"/>
<rect x="408.4" y="259.9" width="11.3" height="10.1" fill="url(#gA)"/>
<rect x="419.7" y="259.9" width="11.8" height="10.1" fill="url(#gB)"/>
<rect x="408.4" y="204.3" width="11.3" height="9.3" fill="url(#gB)"/>
<rect x="419.7" y="204.3" width="11.8" height="9.3" fill="url(#gA)"/>
<rect x="408.4" y="213.6" width="11.3" height="9.6" fill="url(#gA)"/>
<rect x="419.7" y="213.6" width="11.8" height="9.6" fill="url(#gB)"/>
<rect x="408.4" y="183.6" width="11.3" height="10.5" fill="url(#gB)"/>
<rect x="419.7" y="183.6" width="11.8" height="10.5" fill="url(#gA)"/>
<rect x="408.4" y="194.1" width="11.3" height="10.2" fill="url(#gA)"/>
<rect x="419.7" y="194.1" width="11.8" height="10.2" fill="url(#gB)"/>
<rect x="408.4" y="167.5" width="11.3" height="11.4" fill="url(#gB)"/>
<rect x="419.7" y="167.5" width="11.8" height="11.4" fill="url(#gA)"/>
<rect x="408.4" y="178.9" width="11.3" height="4.7" fill="url(#gA)"/>
<rect x="419.7" y="178.9" width="11.8" height="4.7" fill="url(#gB)"/>
<rect x="408.4" y="147.4" width="11.3" height="16.9" fill="url(#gB)"/>
<rect x="419.7" y="147.4" width="11.8" height="16.9" fill="url(#gA)"/>
<rect x="408.4" y="164.3" width="11.3" height="3.2" fill="url(#gA)"/>
<rect x="419.7" y="164.3" width="11.8" height="3.2" fill="url(#gB)"/>
<rect x="408.4" y="120.4" width="11.3" height="14.0" fill="url(#gB)"/>
<rect x="419.7" y="120.4" width="11.8" height="14.0" fill="url(#gA)"/>
<rect x="408.4" y="134.4" width="11.3" height="13.0" fill="url(#gA)"/>
<rect x="419.7" y="134.4" width="11.8" height="13.0" fill="url(#gB)"/>
<rect x="408.4" y="98.8" width="11.3" height="14.0" fill="url(#gB)"/>
<rect x="419.7" y="98.8" width="11.8" height="14.0" fill="url(#gA)"/>
<rect x="408.4" y="112.8" width="11.3" height="7.6" fill="url(#gA)"/>
<rect x="419.7" y="112.8" width="11.8" height="7.6" fill="url(#gB)"/>
<rect x="408.4" y="76.6" width="11.3" height="10.8" fill="url(#gB)"/>
<rect x="419.7" y="76.6" width="11.8" height="10.8" fill="url(#gA)"/>
<rect x="408.4" y="87.4" width="11.3" height="11.4" fill="url(#gA)"/>
<rect x="419.7" y="87.4" width="11.8" height="11.4" fill="url(#gB)"/>
<rect x="408.4" y="53.7" width="11.3" height="11.8" fill="url(#gB)"/>
<rect x="419.7" y="53.7" width="11.8" height="11.8" fill="url(#gA)"/>
<rect x="408.4" y="65.5" width="11.3" height="11.1" fill="url(#gA)"/>
<rect x="419.7" y="65.5" width="11.8" height="11.1" fill="url(#gB)"/>
<rect x="408.4" y="30.8" width="11.3" height="10.2" fill="url(#gB)"/>
<rect x="419.7" y="30.8" width="11.8" height="10.2" fill="url(#gA)"/>
<rect x="408.4" y="41.0" width="11.3" height="12.7" fill="url(#gA)"/>
<rect x="419.7" y="41.0" width="11.8" height="12.7" fill="url(#gB)"/>
<rect x="431.5" y="246.3" width="10.4" height="13.6" fill="url(#gB)"/>
<rect x="441.9" y="246.3" width="8.6" height="13.6" fill="url(#gA)"/>
<rect x="431.5" y="259.9" width="10.4" height="10.1" fill="url(#gA)"/>
<rect x="441.9" y="259.9" width="8.6" height="10.1" fill="url(#gB)"/>
<rect x="431.5" y="223.3" width="10.4" height="12.5" fill="url(#gB)"/>
<rect x="441.9" y="223.3" width="8.6" height="12.5" fill="url(#gA)"/>
<rect x="431.5" y="235.8" width="10.4" height="10.5" fill="url(#gA)"/>
<rect x="441.9" y="235.8" width="8.6" height="10.5" fill="url(#gB)"/>
<rect x="431.5" y="183.6" width="10.4" height="10.5" fill="url(#gB)"/>
<rect x="441.9" y="183.6" width="8.6" height="10.5" fill="url(#gA)"/>
<rect x="431.5" y="194.1" width="10.4" height="10.2" fill="url(#gA)"/>
<rect x="441.9" y="194.1" width="8.6" height="10.2" fill="url(#gB)"/>
<rect x="431.5" y="167.5" width="10.4" height="11.4" fill="url(#gB)"/>
<rect x="441.9" y="167.5" width="8.6" height="11.4" fill="url(#gA)"/>
<rect x="431.5" y="178.9" width="10.4" height="4.7" fill="url(#gA)"/>
<rect x="441.9" y="178.9" width="8.6" height="4.7" fill="url(#gB)"/>
<rect x="431.5" y="147.4" width="10.4" height="16.9" fill="url(#gB)"/>
<rect x="441.9" y="147.4" width="8.6" height="16.9" fill="url(#gA)"/>
<rect x="431.5" y="164.3" width="10.4" height="3.2" fill="url(#gA)"/>
<rect x="441.9" y="164.3" width="8.6" height="3.2" fill="url(#gB)"/>
<rect x="431.5" y="120.4" width="10.4" height="14.0" fill="url(#gB)"/>
<rect x="441.9" y="120.4" width="8.6" height="14.0" fill="url(#gA)"/>
<rect x="431.5" y="134.4" width="10.4" height="13.0" fill="url(#gA)"/>
<rect x="441.9" y="134.4" width="8.6" height="13.0" fill="url(#gB)"/>
<rect x="431.5" y="98.8" width="10.4" height="14.0" fill="url(#gB)"/>
<rect x="441.9" y="98.8" width="8.6" height="14.0" fill="url(#gA)"/>
<rect x="431.5" y="112.8" width="10.4" height="7.6" fill="url(#gA)"/>
<rect x="441.9" y="112.8" width="8.6" height="7.6" fill="url(#gB)"/>
<rect x="431.5" y="76.6" width="10.4" height="10.8" fill="url(#gB)"/>
<rect x="441.9" y="76.6" width="8.6" height="10.8" fill="url(#gA)"/>
<rect x="431.5" y="87.4" width="10.4" height="11.4" fill="url(#gA)"/>
<rect x="441.9" y="87.4" width="8.6" height="11.4" fill="url(#gB)"/>
<rect x="431.5" y="53.7" width="10.4" height="11.8" fill="url(#gB)"/>
<rect x="441.9" y="53.7" width="8.6" height="11.8" fill="url(#gA)"/>
<rect x="431.5" y="65.5" width="10.4" height="11.1" fill="url(#gA)"/>
<rect x="441.9" y="65.5" width="8.6" height="11.1" fill="url(#gB)"/>
<rect x="431.5" y="30.8" width="10.4" height="10.2" fill="url(#gB)"/>
<rect x="441.9" y="30.8" width="8.6" height="10.2" fill="url(#gA)"/>
<rect x="431.5" y="41.0" width="10.4" height="12.7" fill="url(#gA)"/>
<rect x="441.9" y="41.0" width="8.6" height="12.7" fill="url(#gB)"/>
<rect x="450.5" y="246.3" width="11.0" height="13.6" fill="url(#gB)"/>
<rect x="461.5" y="246.3" width="9.8" height="13.6" fill="url(#gA)"/>
<rect x="450.5" y="259.9" width="11.0" height="10.1" fill="url(#gA)"/>
<rect x="461.5" y="259.9" width="9.8" height="10.1" fill="url(#gB)"/>
<rect x="450.5" y="223.3" width="11.0" height="12.5" fill="url(#gB)"/>
<rect x="461.5" y="223.3" width="9.8" height="12.5" fill="url(#gA)"/>
<rect x="450.5" y="235.8" width="11.0" height="10.5" fill="url(#gA)"/>
<rect x="461.5" y="235.8" width="9.8" height="10.5" fill="url(#gB)"/>
<rect x="450.5" y="204.3" width="11.0" height="9.3" fill="url(#gB)"/>
<rect x="461.5" y="204.3" width="9.8" height="9.3" fill="url(#gA)"/>
<rect x="450.5" y="213.6" width="11.0" height="9.6" fill="url(#gA)"/>
<rect x="461.5" y="213.6" width="9.8" height="9.6" fill="url(#gB)"/>
<rect x="450.5" y="167.5" width="11.0" height="11.4" fill="url(#gB)"/>
<rect x="461.5" y="167.5" width="9.8" height="11.4" fill="url(#gA)"/>
<rect x="450.5" y="178.9" width="11.0" height="4.7" fill="url(#gA)"/>
<rect x="461.5" y="178.9" width="9.8" height="4.7" fill="url(#gB)"/>
<rect x="450.5" y="147.4" width="11.0" height="16.9" fill="url(#gB)"/>
<rect x="461.5" y="147.4" width="9.8" height="16.9" fill="url(#gA)"/>
<rect x="450.5" y="164.3" width="11.0" height="3.2" fill="url(#gA)"/>
<rect x="461.5" y="164.3" width="9.8" height="3.2" fill="url(#gB)"/>
<rect x="450.5" y="120.4" width="11.0" height="14.0" fill="url(#gB)"/>
<rect x="461.5" y="120.4" width="9.8" height="14.0" fill="url(#gA)"/>
<rect x="450.5" y="134.4" width="11.0" height="13.0" fill="url(#gA)"/>
<rect x="461.5" y="134.4" width="9.8" height="13.0" fill="url(#gB)"/>
<rect x="450.5" y="98.8" width="11.0" height="14.0" fill="url(#gB)"/>
<rect x="461.5" y="98.8" width="9.8" height="14.0" fill="url(#gA)"/>
<rect x="450.5" y="112.8" width="11.0" height="7.6" fill="url(#gA)"/>
<rect x="461.5" y="112.8" width="9.8" height="7.6" fill="url(#gB)"/>
<rect x="450.5" y="76.6" width="11.0" height="10.8" fill="url(#gB)"/>
<rect x="461.5" y="76.6" width="9.8" height="10.8" fill="url(#gA)"/>
<rect x="450.5" y="87.4" width="11.0" height="11.4" fill="url(#gA)"/>
<rect x="461.5" y="87.4" width="9.8" height="11.4" fill="url(#gB)"/>
<rect x="450.5" y="53.7" width="11.0" height="11.8" fill="url(#gB)"/>
<rect x="461.5" y="53.7" width="9.8" height="11.8" fill="url(#gA)"/>
<rect x="450.5" y="65.5" width="11.0" height="11.1" fill="url(#gA)"/>
<rect x="461.5" y="65.5" width="9.8" height="11.1" fill="url(#gB)"/>
<rect x="450.5" y="30.8" width="11.0" height="10.2" fill="url(#gB)"/>
<rect x="461.5" y="30.8" width="9.8" height="10.2" fill="url(#gA)"/>
<rect x="450.5" y="41.0" width="11.0" height="12.7" fill="url(#gA)"/>
<rect x="461.5" y="41.0" width="9.8" height="12.7" fill="url(#gB)"/>
<rect x="471.3" y="246.3" width="5.5" height="13.6" fill="url(#gB)"/>
<rect x="476.8" y="246.3" width="10.6" height="13.6" fill="url(#gA)"/>
<rect x="471.3" y="259.9" width="5.5" height="10.1" fill="url(#gA)"/>
<rect x="476.8" y="259.9" width="10.6" height="10.1" fill="url(#gB)"/>
<rect x="471.3" y="223.3" width="5.5" height="12.5" fill="url(#gB)"/>
<rect x="476.8" y="223.3" width="10.6" height="12.5" fill="url(#gA)"/>
<rect x="471.3" y="235.8" width="5.5" height="10.5" fill="url(#gA)"/>
<rect x="476.8" y="235.8" width="10.6" height="10.5" fill="url(#gB)"/>
<rect x="471.3" y="204.3" width="5.5" height="9.3" fill="url(#gB)"/>
<rect x="476.8" y="204.3" width="10.6" height="9.3" fill="url(#gA)"/>
<rect x="471.3" y="213.6" width="5.5" height="9.6" fill="url(#gA)"/>
<rect x="476.8" y="213.6" width="10.6" height="9.6" fill="url(#gB)"/>
<rect x="471.3" y="183.6" width="5.5" height="10.5" fill="url(#gB)"/>
<rect x="476.8" y="183.6" width="10.6" height="10.5" fill="url(#gA)"/>
<rect x="471.3" y="194.1" width="5.5" height="10.2" fill="url(#gA)"/>
<rect x="476.8" y="194.1" width="10.6" height="10.2" fill="url(#gB)"/>
<rect x="471.3" y="147.4" width="5.5" height="16.9" fill="url(#gB)"/>
<rect x="476.8" y="147.4" width="10.6" height="16.9" fill="url(#gA)"/>
<rect x="471.3" y="164.3" width="5.5" height="3.2" fill="url(#gA)"/>
<rect x="476.8" y="164.3" width="10.6" height="3.2" fill="url(#gB)"/>
<rect x="471.3" y="120.4" width="5.5" height="14.0" fill="url(#gB)"/>
<rect x="476.8" y="120.4" width="10.6" height="14.0" fill="url(#gA)"/>
<rect x="471.3" y="134.4" width="5.5" height="13.0" fill="url(#gA)"/>
<rect x="476.8" y="134.4" width="10.6" height="13.0" fill="url(#gB)"/>
<rect x="471.3" y="98.8" width="5.5" height="14.0" fill="url(#gB)"/>
<rect x="476.8" y="98.8" width="10.6" height="14.0" fill="url(#gA)"/>
<rect x="471.3" y="112.8" width="5.5" height="7.6" fill="url(#gA)"/>
<rect x="476.8" y="112.8" width="10.6" height="7.6" fill="url(#gB)"/>
<rect x="471.3" y="76.6" width="5.5" height="10.8" fill="url(#gB)"/>
<rect x="476.8" y="76.6" width="10.6" height="10.8" fill="url(#gA)"/>
<rect x="471.3" y="87.4" width="5.5" height="11.4" fill="url(#gA)"/>
<rect x="476.8" y="87.4" width="10.6" height="11.4" fill="url(#gB)"/>
<rect x="471.3" y="53.7" width="5.5" height="11.8" fill="url(#gB)"/>
<rect x="476.8" y="53.7" width="10.6" height="11.8" fill="url(#gA)"/>
<rect x="471.3" y="65.5" width="5.5" height="11.1" fill="url(#gA)"/>
<rect x="476.8" y="65.5" width="10.6" height="11.1" fill="url(#gB)"/>
<rect x="471.3" y="30.8" width="5.5" height="10.2" fill="url(#gB)"/>
<rect x="476.8" y="30.8" width="10.6" height="10.2" fill="url(#gA)"/>
<rect x="471.3" y="41.0" width="5.5" height="12.7" fill="url(#gA)"/>
<rect x="476.8" y="41.0" width="10.6" height="12.7" fill="url(#gB)"/>
<rect x="487.4" y="246.3" width="4.0" height="13.6" fill="url(#gB)"/>
<rect x="491.4" y="246.3" width="16.2" height="13.6" fill="url(#gA)"/>
<rect x="487.4" y="259.9" width="4.0" height="10.1" fill="url(#gA)"/>
<rect x="491.4" y="259.9" width="16.2" height="10.1" fill="url(#gB)"/>
<rect x="487.4" y="223.3" width="4.0" height="12.5" fill="url(#gB)"/>
<rect x="491.4" y="223.3" width="16.2" height="12.5" fill="url(#gA)"/>
<rect x="487.4" y="235.8" width="4.0" height="10.5" fill="url(#gA)"/>
<rect x="491.4" y="235.8" width="16.2" height="10.5" fill="url(#gB)"/>
<rect x="487.4" y="204.3" width="4.0" height="9.3" fill="url(#gB)"/>
<rect x="491.4" y="204.3" width="16.2" height="9.3" fill="url(#gA)"/>
<rect x="487.4" y="213.6" width="4.0" height="9.6" fill="url(#gA)"/>
<rect x="491.4" y="213.6" width="16.2" height="9.6" fill="url(#gB)"/>
<rect x="487.4" y="183.6" width="4.0" height="10.5" fill="url(#gB)"/>
<rect x="491.4" y="183.6" width="16.2" height="10.5" fill="url(#gA)"/>
<rect x="487.4" y="194.1" width="4.0" height="10.2" fill="url(#gA)"/>
<rect x="491.4" y="194.1" width="16.2" height="10.2" fill="url(#gB)"/>
<rect x="487.4" y="167.5" width="4.0" height="11.4" fill="url(#gB)"/>
<rect x="491.4" y="167.5" width="16.2" height="11.4" fill="url(#gA)"/>
<rect x="487.4" y="178.9" width="4.0" height="4.7" fill="url(#gA)"/>
<rect x="491.4" y="178.9" width="16.2" height="4.7" fill="url(#gB)"/>
<rect x="487.4" y="120.4" width="4.0" height="14.0" fill="url(#gB)"/>
<rect x="491.4" y="120.4" width="16.2" height="14.0" fill="url(#gA)"/>
<rect x="487.4" y="134.4" width="4.0" height="13.0" fill="url(#gA)"/>
<rect x="491.4" y="134.4" width="16.2" height="13.0" fill="url(#gB)"/>
<rect x="487.4" y="98.8" width="4.0" height="14.0" fill="url(#gB)"/>
<rect x="491.4" y="98.8" width="16.2" height="14.0" fill="url(#gA)"/>
<rect x="487.4" y="112.8" width="4.0" height="7.6" fill="url(#gA)"/>
<rect x="491.4" y="112.8" width="16.2" height="7.6" fill="url(#gB)"/>
<rect x="487.4" y="76.6" width="4.0" height="10.8" fill="url(#gB)"/>
<rect x="491.4" y="76.6" width="16.2" height="10.8" fill="url(#gA)"/>
<rect x="487.4" y="87.4" width="4.0" height="11.4" fill="url(#gA)"/>
<rect x="491.4" y="87.4" width="16.2" height="11.4" fill="url(#gB)"/>
<rect x="487.4" y="53.7" width="4.0" height="11.8" fill="url(#gB)"/>
<rect x="491.4" y="53.7" width="16.2" height="11.8" fill="url(#gA)"/>
<rect x="487.4" y="65.5" width="4.0" height="11.1" fill="url(#gA)"/>
<rect x="491.4" y="65.5" width="16.2" height="11.1" fill="url(#gB)"/>
<rect x="487.4" y="30.8" width="4.0" height="10.2" fill="url(#gB)"/>
<rect x="491.4" y="30.8" width="16.2" height="10.2" fill="url(#gA)"/>
<rect x="487.4" y="41.0" width="4.0" height="12.7" fill="url(#gA)"/>
<rect x="491.4" y="41.0" width="16.2" height="12.7" fill="url(#gB)"/>
<rect x="507.6" y="246.3" width="13.8" height="13.6" fill="url(#gB)"/>
<rect x="521.4" y="246.3" width="13.3" height="13.6" fill="url(#gA)"/>
<rect x="507.6" y="259.9" width="13.8" height="10.1" fill="url(#gA)"/>
<rect x="521.4" y="259.9" width="13.3" height="10.1" fill="url(#gB)"/>
<rect x="507.6" y="223.3" width="13.8" height="12.5" fill="url(#gB)"/>
<rect x="521.4" y="223.3" width="13.3" height="12.5" fill="url(#gA)"/>
<rect x="507.6" y="235.8" width="13.8" height="10.5" fill="url(#gA)"/>
<rect x="521.4" y="235.8" width="13.3" height="10.5" fill="url(#gB)"/>
<rect x="507.6" y="204.3" width="13.8" height="9.3" fill="url(#gB)"/>
<rect x="521.4" y="204.3" width="13.3" height="9.3" fill="url(#gA)"/>
<rect x="507.6" y="213.6" width="13.8" height="9.6" fill="url(#gA)"/>
<rect x="521.4" y="213.6" width="13.3" height="9.6" fill="url(#gB)"/>
<rect x="507.6" y="183.6" width="13.8" height="10.5" fill="url(#gB)"/>
<rect x="521.4" y="183.6" width="13.3" height="10.5" fill="url(#gA)"/>
<rect x="507.6" y="194.1" width="13.8" height="10.2" fill="url(#gA)"/>
<rect x="521.4" y="194.1" width="13.3" height="10.2" fill="url(#gB)"/>
<rect x="507.6" y="167.5" width="13.8" height="11.4" fill="url(#gB)"/>
<rect x="521.4" y="167.5" width="13.3" height="11.4" fill="url(#gA)"/>
<rect x="507.6" y="178.9" width="13.8" height="4.7" fill="url(#gA)"/>
<rect x="521.4" y="178.9" width="13.3" height="4.7" fill="url(#gB)"/>
<rect x="507.6" y="147.4" width="13.8" height="16.9" fill="url(#gB)"/>
<rect x="521.4" y="147.4" width="13.3" height="16.9" fill="url(#gA)"/>
<rect x="507.6" y="164.3" width="13.8" height="3.2" fill="url(#gA)"/>
<rect x="521.4" y="164.3" width="13.3" height="3.2" fill="url(#gB)"/>
<rect x="507.6" y="98.8" width="13.8" height="14.0" fill="url(#gB)"/>
<rect x="521.4" y="98.8" width="13.3" height="14.0" fill="url(#gA)"/>
<rect x="507.6" y="112.8" width="13.8" height="7.6" fill="url(#gA)"/>
<rect x="521.4" y="112.8" width="13.3" height="7.6" fill="url(#gB)"/>
<rect x="507.6" y="76.6" width="13.8" height="10.8" fill="url(#gB)"/>
<rect x="521.4" y="76.6" width="13.3" height="10.8" fill="url(#gA)"/>
<rect x="507.6" y="87.4" width="13.8" height="11.4" fill="url(#gA)"/>
<rect x="521.4" y="87.4" width="13.3" height="11.4" fill="url(#gB)"/>
<rect x="507.6" y="53.7" width="13.8" height="11.8" fill="url(#gB)"/>
<rect x="521.4" y="53.7" width="13.3" height="11.8" fill="url(#gA)"/>
<rect x="507.6" y="65.5" width="13.8" height="11.1" fill="url(#gA)"/>
<rect x="521.4" y="65.5" width="13.3" height="11.1" fill="url(#gB)"/>
<rect x="507.6" y="30.8" width="13.8" height="10.2" fill="url(#gB)"/>
<rect x="521.4" y="30.8" width="13.3" height="10.2" fill="url(#gA)"/>
<rect x="507.6" y="41.0" width="13.8" height="12.7" fill="url(#gA)"/>
<rect x="521.4" y="41.0" width="13.3" height="12.7" fill="url(#gB)"/>
<rect x="534.7" y="246.3" width="8.5" height="13.6" fill="url(#gB)"/>
<rect x="543.2" y="246.3" width="13.2" height="13.6" fill="url(#gA)"/>
<rect x="534.7" y="259.9" width="8.5" height="10.1" fill="url(#gA)"/>
<rect x="543.2" y="259.9" width="13.2" height="10.1" fill="url(#gB)"/>
<rect x="534.7" y="223.3" width="8.5" height="12.5" fill="url(#gB)"/>
<rect x="543.2" y="223.3" width="13.2" height="12.5" fill="url(#gA)"/>
<rect x="534.7" y="235.8" width="8.5" height="10.5" fill="url(#gA)"/>
<rect x="543.2" y="235.8" width="13.2" height="10.5" fill="url(#gB)"/>
<rect x="534.7" y="204.3" width="8.5" height="9.3" fill="url(#gB)"/>
<rect x="543.2" y="204.3" width="13.2" height="9.3" fill="url(#gA)"/>
<rect x="534.7" y="213.6" width="8.5" height="9.6" fill="url(#gA)"/>
<rect x="543.2" y="213.6" width="13.2" height="9.6" fill="url(#gB)"/>
<rect x="534.7" y="183.6" width="8.5" height="10.5" fill="url(#gB)"/>
<rect x="543.2" y="183.6" width="13.2" height="10.5" fill="url(#gA)"/>
<rect x="534.7" y="194.1" width="8.5" height="10.2" fill="url(#gA)"/>
<rect x="543.2" y="194.1" width="13.2" height="10.2" fill="url(#gB)"/>
<rect x="534.7" y="167.5" width="8.5" height="11.4" fill="url(#gB)"/>
<rect x="543.2" y="167.5" width="13.2" height="11.4" fill="url(#gA)"/>
<rect x="534.7" y="178.9" width="8.5" height="4.7" fill="url(#gA)"/>
<rect x="543.2" y="178.9" width="13.2" height="4.7" fill="url(#gB)"/>
<rect x="534.7" y="147.4" width="8.5" height="16.9" fill="url(#gB)"/>
<rect x="543.2" y="147.4" width="13.2" height="16.9" fill="url(#gA)"/>
<rect x="534.7" y="164.3" width="8.5" height="3.2" fill="url(#gA)"/>
<rect x="543.2" y="164.3" width="13.2" height="3.2" fill="url(#gB)"/>
<rect x="534.7" y="120.4" width="8.5" height="14.0" fill="url(#gB)"/>
<rect x="543.2" y="120.4" width="13.2" height="14.0" fill="url(#gA)"/>
<rect x="534.7" y="134.4" width="8.5" height="13.0" fill="url(#gA)"/>
<rect x="543.2" y="134.4" width="13.2" height="13.0" fill="url(#gB)"/>
<rect x="534.7" y="76.6" width="8.5" height="10.8" fill="url(#gB)"/>
<rect x="543.2" y="76.6" width="13.2" height="10.8" fill="url(#gA)"/>
<rect x="534.7" y="87.4" width="8.5" height="11.4" fill="url(#gA)"/>
<rect x="543.2" y="87.4" width="13.2" height="11.4" fill="url(#gB)"/>
<rect x="534.7" y="53.7" width="8.5" height="11.8" fill="url(#gB)"/>
<rect x="543.2" y="53.7" width="13.2" height="11.8" fill="url(#gA)"/>
<rect x="534.7" y="65.5" width="8.5" height="11.1" fill="url(#gA)"/>
<rect x="543.2" y="65.5" width="13.2" height="11.1" fill="url(#gB)"/>
<rect x="534.7" y="30.8" width="8.5" height="10.2" fill="url(#gB)"/>
<rect x="543.2" y="30.8" width="13.2" height="10.2" fill="url(#gA)"/>
<rect x="534.7" y="41.0" width="8.5" height="12.7" fill="url(#gA)"/>
<rect x="543.2" y="41.0" width="13.2" height="12.7" fill="url(#gB)"/>
<rect x="556.4" y="246.3" width="12.2" height="13.6" fill="url(#gB)"/>
<rect x="568.6" y="246.3" width="10.0" height="13.6" fill="url(#gA)"/>
<rect x="556.4" y="259.9" width="12.2" height="10.1" fill="url(#gA)"/>
<rect x="568.6" y="259.9" width="10.0" height="10.1" fill="url(#gB)"/>
<rect x="556.4" y="223.3" width="12.2" height="12.5" fill="url(#gB)"/>
<rect x="568.6" y="223.3" width="10.0" height="12.5" fill="url(#gA)"/>
<rect x="556.4" y="235.8" width="12.2" height="10.5" fill="url(#gA)"/>
<rect x="568.6" y="235.8" width="10.0" height="10.5" fill="url(#gB)"/>
<rect x="556.4" y="204.3" width="12.2" height="9.3" fill="url(#gB)"/>
<rect x="568.6" y="204.3" width="10.0" height="9.3" fill="url(#gA)"/>
<rect x="556.4" y="213.6" width="12.2" height="9.6" fill="url(#gA)"/>
<rect x="568.6" y="213.6" width="10.0" height="9.6" fill="url(#gB)"/>
<rect x="556.4" y="183.6" width="12.2" height="10.5" fill="url(#gB)"/>
<rect x="568.6" y="183.6" width="10.0" height="10.5" fill="url(#gA)"/>
<rect x="556.4" y="194.1" width="12.2" height="10.2" fill="url(#gA)"/>
<rect x="568.6" y="194.1" width="10.0" height="10.2" fill="url(#gB)"/>
<rect x="556.4" y="167.5" width="12.2" height="11.4" fill="url(#gB)"/>
<rect x="568.6" y="167.5" width="10.0" height="11.4" fill="url(#gA)"/>
<rect x="556.4" y="178.9" width="12.2" height="4.7" fill="url(#gA)"/>
<rect x="568.6" y="178.9" width="10.0" height="4.7" fill="url(#gB)"/>
<rect x="556.4" y="147.4" width="12.2" height="16.9" fill="url(#gB)"/>
<rect x="568.6" y="147.4" width="10.0" height="16.9" fill="url(#gA)"/>
<rect x="556.4" y="164.3" width="12.2" height="3.2" fill="url(#gA)"/>
<rect x="568.6" y="164.3" width="10.0" height="3.2" fill="url(#gB)"/>
<rect x="556.4" y="120.4" width="12.2" height="14.0" fill="url(#gB)"/>
<rect x="568.6" y="120.4" width="10.0" height="14.0" fill="url(#gA)"/>
<rect x="556.4" y="134.4" width="12.2" height="13.0" fill="url(#gA)"/>
<rect x="568.6" y="134.4" width="10.0" height="13.0" fill="url(#gB)"/>
<rect x="556.4" y="98.8" width="12.2" height="14.0" fill="url(#gB)"/>
<rect x="568.6" y="98.8" width="10.0" height="14.0" fill="url(#gA)"/>
<rect x="556.4" y="112.8" width="12.2" height="7.6" fill="url(#gA)"/>
<rect x="568.6" y="112.8" width="10.0" height="7.6" fill="url(#gB)"/>
<rect x="556.4" y="53.7" width="12.2" height="11.8" fill="url(#gB)"/>
<rect x="568.6" y="53.7" width="10.0" height="11.8" fill="url(#gA)"/>
<rect x="556.4" y="65.5" width="12.2" height="11.1" fill="url(#gA)"/>
<rect x="568.6" y="65.5" width="10.0" height="11.1" fill="url(#gB)"/>
<rect x="556.4" y="30.8" width="12.2" height="10.2" fill="url(#gB)"/>
<rect x="568.6" y="30.8" width="10.0" height="10.2" fill="url(#gA)"/>
<rect x="556.4" y="41.0" width="12.2" height="12.7" fill="url(#gA)"/>
<rect x="568.6" y="41.0" width="10.0" height="12.7" fill="url(#gB)"/>
<rect x="578.6" y="246.3" width="12.0" height="13.6" fill="url(#gB)"/>
<rect x="590.6" y="246.3" width="11.0" height="13.6" fill="url(#gA)"/>
<rect x="578.6" y="259.9" width="12.0" height="10.1" fill="url(#gA)"/>
<rect x="590.6" y="259.9" width="11.0" height="10.1" fill="url(#gB)"/>
<rect x="578.6" y="223.3" width="12.0" height="12.5" fill="url(#gB)"/>
<rect x="590.6" y="223.3" width="11.0" height="12.5" fill="url(#gA)"/>
<rect x="578.6" y="235.8" width="12.0" height="10.5" fill="url(#gA)"/>
<rect x="590.6" y="235.8" width="11.0" height="10.5" fill="url(#gB)"/>
<rect x="578.6" y="204.3" width="12.0" height="9.3" fill="url(#gB)"/>
<rect x="590.6" y="204.3" width="11.0" height="9.3" fill="url(#gA)"/>
<rect x="578.6" y="213.6" width="12.0" height="9.6" fill="url(#gA)"/>
<rect x="590.6" y="213.6" width="11.0" height="9.6" fill="url(#gB)"/>
<rect x="578.6" y="183.6" width="12.0" height="10.5" fill="url(#gB)"/>
<rect x="590.6" y="183.6" width="11.0" height="10.5" fill="url(#gA)"/>
<rect x="578.6" y="194.1" width="12.0" height="10.2" fill="url(#gA)"/>
<rect x="590.6" y="194.1" width="11.0" height="10.2" fill="url(#gB)"/>
<rect x="578.6" y="167.5" width="12.0" height="11.4" fill="url(#gB)"/>
<rect x="590.6" y="167.5" width="11.0" height="11.4" fill="url(#gA)"/>
<rect x="578.6" y="178.9" width="12.0" height="4.7" fill="url(#gA)"/>
<rect x="590.6" y="178.9" width="11.0" height="4.7" fill="url(#gB)"/>
<rect x="578.6" y="147.4" width="12.0" height="16.9" fill="url(#gB)"/>
<rect x="590.6" y="147.4" width="11.0" height="16.9" fill="url(#gA)"/>
<rect x="578.6" y="164.3" width="12.0" height="3.2" fill="url(#gA)"/>
<rect x="590.6" y="164.3" width="11.0" height="3.2" fill="url(#gB)"/>
<rect x="578.6" y="120.4" width="12.0" height="14.0" fill="url(#gB)"/>
<rect x="590.6" y="120.4" width="11.0" height="14.0" fill="url(#gA)"/>
<rect x="578.6" y="134.4" width="12.0" height="13.0" fill="url(#gA)"/>
<rect x="590.6" y="134.4" width="11.0" height="13.0" fill="url(#gB)"/>
<rect x="578.6" y="98.8" width="12.0" height="14.0" fill="url(#gB)"/>
<rect x="590.6" y="98.8" width="11.0" height="14.0" fill="url(#gA)"/>
<rect x="578.6" y="112.8" width="12.0" height="7.6" fill="url(#gA)"/>
<rect x="590.6" y="112.8" width="11.0" height="7.6" fill="url(#gB)"/>
<rect x="578.6" y="76.6" width="12.0" height="10.8" fill="url(#gB)"/>
<rect x="590.6" y="76.6" width="11.0" height="10.8" fill="url(#gA)"/>
<rect x="578.6" y="87.4" width="12.0" height="11.4" fill="url(#gA)"/>
<rect x="590.6" y="87.4" width="11.0" height="11.4" fill="url(#gB)"/>
<rect x="578.6" y="30.8" width="12.0" height="10.2" fill="url(#gB)"/>
<rect x="590.6" y="30.8" width="11.0" height="10.2" fill="url(#gA)"/>
<rect x="578.6" y="41.0" width="12.0" height="12.7" fill="url(#gA)"/>
<rect x="590.6" y="41.0" width="11.0" height="12.7" fill="url(#gB)"/>
<rect x="601.6" y="246.3" width="13.6" height="13.6" fill="url(#gB)"/>
<rect x="615.2" y="246.3" width="9.4" height="13.6" fill="url(#gA)"/>
<rect x="601.6" y="259.9" width="13.6" height="10.1" fill="url(#gA)"/>
<rect x="615.2" y="259.9" width="9.4" height="10.1" fill="url(#gB)"/>
<rect x="601.6" y="223.3" width="13.6" height="12.5" fill="url(#gB)"/>
<rect x="615.2" y="223.3" width="9.4" height="12.5" fill="url(#gA)"/>
<rect x="601.6" y="235.8" width="13.6" height="10.5" fill="url(#gA)"/>
<rect x="615.2" y="235.8" width="9.4" height="10.5" fill="url(#gB)"/>
<rect x="601.6" y="204.3" width="13.6" height="9.3" fill="url(#gB)"/>
<rect x="615.2" y="204.3" width="9.4" height="9.3" fill="url(#gA)"/>
<rect x="601.6" y="213.6" width="13.6" height="9.6" fill="url(#gA)"/>
<rect x="615.2" y="213.6" width="9.4" height="9.6" fill="url(#gB)"/>
<rect x="601.6" y="183.6" width="13.6" height="10.5" fill="url(#gB)"/>
<rect x="615.2" y="183.6" width="9.4" height="10.5" fill="url(#gA)"/>
<rect x="601.6" y="194.1" width="13.6" height="10.2" fill="url(#gA)"/>
<rect x="615.2" y="194.1" width="9.4" height="10.2" fill="url(#gB)"/>
<rect x="601.6" y="167.5" width="13.6" height="11.4" fill="url(#gB)"/>
<rect x="615.2" y="167.5" width="9.4" height="11.4" fill="url(#gA)"/>
<rect x="601.6" y="178.9" width="13.6" height="4.7" fill="url(#gA)"/>
<rect x="615.2" y="178.9" width="9.4" height="4.7" fill="url(#gB)"/>
<rect x="601.6" y="147.4" width="13.6" height="16.9" fill="url(#gB)"/>
<rect x="615.2" y="147.4" width="9.4" height="16.9" fill="url(#gA)"/>
<rect x="601.6" y="164.3" width="13.6" height="3.2" fill="url(#gA)"/>
<rect x="615.2" y="164.3" width="9.4" height="3.2" fill="url(#gB)"/>
<rect x="601.6" y="120.4" width="13.6" height="14.0" fill="url(#gB)"/>
<rect x="615.2" y="120.4" width="9.4" height="14.0" fill="url(#gA)"/>
<rect x="601.6" y="134.4" width="13.6" height="13.0" fill="url(#gA)"/>
<rect x="615.2" y="134.4" width="9.4" height="13.0" fill="url(#gB)"/>
<rect x="601.6" y="98.8" width="13.6" height="14.0" fill="url(#gB)"/>
<rect x="615.2" y="98.8" width="9.4" height="14.0" fill="url(#gA)"/>
<rect x="601.6" y="112.8" width="13.6" height="7.6" fill="url(#gA)"/>
<rect x="615.2" y="112.8" width="9.4" height="7.6" fill="url(#gB)"/>
<rect x="601.6" y="76.6" width="13.6" height="10.8" fill="url(#gB)"/>
<rect x="615.2" y="76.6" width="9.4" height="10.8" fill="url(#gA)"/>
<rect x="601.6" y="87.4" width="13.6" height="11.4" fill="url(#gA)"/>
<rect x="615.2" y="87.4" width="9.4" height="11.4" fill="url(#gB)"/>
<rect x="601.6" y="53.7" width="13.6" height="11.8" fill="url(#gB)"/>
<rect x="615.2" y="53.7" width="9.4" height="11.8" fill="url(#gA)"/>
<rect x="601.6" y="65.5" width="13.6" height="11.1" fill="url(#gA)"/>
<rect x="615.2" y="65.5" width="9.4" height="11.1" fill="url(#gB)"/>
<circle cx="384.6" cy="246.3" r="7.5" fill="url(#gC)" opacity="0.13"/>
<circle cx="384.6" cy="223.3" r="8.0" fill="url(#gC)" opacity="0.28"/>
<circle cx="384.6" cy="204.3" r="7.5" fill="url(#gC)" opacity="0.15"/>
<circle cx="384.6" cy="183.6" r="7.5" fill="url(#gC)" opacity="0.13"/>
<circle cx="384.6" cy="167.5" r="7.6" fill="url(#gC)" opacity="0.17"/>
<circle cx="384.6" cy="147.4" r="8.1" fill="url(#gC)" opacity="0.32"/>
<circle cx="384.6" cy="120.4" r="7.5" fill="url(#gC)" opacity="0.13"/>
<circle cx="384.6" cy="98.8" r="8.1" fill="url(#gC)" opacity="0.29"/>
<circle cx="384.6" cy="76.6" r="7.5" fill="url(#gC)" opacity="0.13"/>
<circle cx="384.6" cy="53.7" r="8.0" fill="url(#gC)" opacity="0.27"/>
<circle cx="384.6" cy="30.8" r="7.4" fill="url(#gC)" opacity="0.10"/>
<circle cx="408.4" cy="270.0" r="7.5" fill="url(#gC)" opacity="0.13"/>
<circle cx="408.4" cy="223.3" r="8.2" fill="url(#gC)" opacity="0.34"/>
<circle cx="408.4" cy="204.3" r="7.6" fill="url(#gC)" opacity="0.18"/>
<circle cx="408.4" cy="183.6" r="7.5" fill="url(#gC)" opacity="0.15"/>
<circle cx="408.4" cy="167.5" r="7.7" fill="url(#gC)" opacity="0.20"/>
<circle cx="408.4" cy="147.4" r="8.3" fill="url(#gC)" opacity="0.38"/>
<circle cx="408.4" cy="120.4" r="7.5" fill="url(#gC)" opacity="0.15"/>
<circle cx="408.4" cy="98.8" r="8.3" fill="url(#gC)" opacity="0.35"/>
<circle cx="408.4" cy="76.6" r="7.5" fill="url(#gC)" opacity="0.15"/>
<circle cx="408.4" cy="53.7" r="8.2" fill="url(#gC)" opacity="0.33"/>
<circle cx="408.4" cy="30.8" r="7.5" fill="url(#gC)" opacity="0.13"/>
<circle cx="431.5" cy="270.0" r="8.0" fill="url(#gC)" opacity="0.28"/>
<circle cx="431.5" cy="246.3" r="8.2" fill="url(#gC)" opacity="0.34"/>
<circle cx="431.5" cy="204.3" r="8.4" fill="url(#gC)" opacity="0.40"/>
<circle cx="431.5" cy="183.6" r="8.2" fill="url(#gC)" opacity="0.34"/>
<circle cx="431.5" cy="167.5" r="8.6" fill="url(#gC)" opacity="0.45"/>
<circle cx="431.5" cy="147.4" r="10.0" fill="url(#gC)" opacity="0.85"/>
<circle cx="431.5" cy="120.4" r="8.2" fill="url(#gC)" opacity="0.34"/>
<circle cx="431.5" cy="98.8" r="9.8" fill="url(#gC)" opacity="0.79"/>
<circle cx="431.5" cy="76.6" r="8.2" fill="url(#gC)" opacity="0.34"/>
<circle cx="431.5" cy="53.7" r="9.6" fill="url(#gC)" opacity="0.74"/>
<circle cx="431.5" cy="30.8" r="8.0" fill="url(#gC)" opacity="0.28"/>
<circle cx="450.5" cy="270.0" r="7.5" fill="url(#gC)" opacity="0.15"/>
<circle cx="450.5" cy="246.3" r="7.6" fill="url(#gC)" opacity="0.18"/>
<circle cx="450.5" cy="223.3" r="8.4" fill="url(#gC)" opacity="0.40"/>
<circle cx="450.5" cy="183.6" r="7.6" fill="url(#gC)" opacity="0.18"/>
<circle cx="450.5" cy="167.5" r="7.8" fill="url(#gC)" opacity="0.24"/>
<circle cx="450.5" cy="147.4" r="8.6" fill="url(#gC)" opacity="0.44"/>
<circle cx="450.5" cy="120.4" r="7.6" fill="url(#gC)" opacity="0.18"/>
<circle cx="450.5" cy="98.8" r="8.5" fill="url(#gC)" opacity="0.41"/>
<circle cx="450.5" cy="76.6" r="7.6" fill="url(#gC)" opacity="0.18"/>
<circle cx="450.5" cy="53.7" r="8.4" fill="url(#gC)" opacity="0.38"/>
<circle cx="450.5" cy="30.8" r="7.5" fill="url(#gC)" opacity="0.15"/>
<circle cx="471.3" cy="270.0" r="7.5" fill="url(#gC)" opacity="0.13"/>
<circle cx="471.3" cy="246.3" r="7.5" fill="url(#gC)" opacity="0.15"/>
<circle cx="471.3" cy="223.3" r="8.2" fill="url(#gC)" opacity="0.34"/>
<circle cx="471.3" cy="204.3" r="7.6" fill="url(#gC)" opacity="0.18"/>
<circle cx="471.3" cy="167.5" r="7.7" fill="url(#gC)" opacity="0.20"/>
<circle cx="471.3" cy="147.4" r="8.3" fill="url(#gC)" opacity="0.38"/>
<circle cx="471.3" cy="120.4" r="7.5" fill="url(#gC)" opacity="0.15"/>
<circle cx="471.3" cy="98.8" r="8.3" fill="url(#gC)" opacity="0.35"/>
<circle cx="471.3" cy="76.6" r="7.5" fill="url(#gC)" opacity="0.15"/>
<circle cx="471.3" cy="53.7" r="8.2" fill="url(#gC)" opacity="0.33"/>
<circle cx="471.3" cy="30.8" r="7.5" fill="url(#gC)" opacity="0.13"/>
<circle cx="487.4" cy="270.0" r="7.6" fill="url(#gC)" opacity="0.17"/>
<circle cx="487.4" cy="246.3" r="7.7" fill="url(#gC)" opacity="0.20"/>
<circle cx="487.4" cy="223.3" r="8.6" fill="url(#gC)" opacity="0.45"/>
<circle cx="487.4" cy="204.3" r="7.8" fill="url(#gC)" opacity="0.24"/>
<circle cx="487.4" cy="183.6" r="7.7" fill="url(#gC)" opacity="0.20"/>
<circle cx="487.4" cy="147.4" r="8.8" fill="url(#gC)" opacity="0.50"/>
<circle cx="487.4" cy="120.4" r="7.7" fill="url(#gC)" opacity="0.20"/>
<circle cx="487.4" cy="98.8" r="8.7" fill="url(#gC)" opacity="0.47"/>
<circle cx="487.4" cy="76.6" r="7.7" fill="url(#gC)" opacity="0.20"/>
<circle cx="487.4" cy="53.7" r="8.6" fill="url(#gC)" opacity="0.44"/>
<circle cx="487.4" cy="30.8" r="7.6" fill="url(#gC)" opacity="0.17"/>
<circle cx="507.6" cy="270.0" r="8.1" fill="url(#gC)" opacity="0.32"/>
<circle cx="507.6" cy="246.3" r="8.3" fill="url(#gC)" opacity="0.38"/>
<circle cx="507.6" cy="223.3" r="10.0" fill="url(#gC)" opacity="0.85"/>
<circle cx="507.6" cy="204.3" r="8.6" fill="url(#gC)" opacity="0.44"/>
<circle cx="507.6" cy="183.6" r="8.3" fill="url(#gC)" opacity="0.38"/>
<circle cx="507.6" cy="167.5" r="8.8" fill="url(#gC)" opacity="0.50"/>
<circle cx="507.6" cy="120.4" r="8.3" fill="url(#gC)" opacity="0.38"/>
<circle cx="507.6" cy="98.8" r="10.2" fill="url(#gC)" opacity="0.88"/>
<circle cx="507.6" cy="76.6" r="8.3" fill="url(#gC)" opacity="0.38"/>
<circle cx="507.6" cy="53.7" r="9.9" fill="url(#gC)" opacity="0.82"/>
<circle cx="507.6" cy="30.8" r="8.1" fill="url(#gC)" opacity="0.32"/>
<circle cx="534.7" cy="270.0" r="7.5" fill="url(#gC)" opacity="0.13"/>
<circle cx="534.7" cy="246.3" r="7.5" fill="url(#gC)" opacity="0.15"/>
<circle cx="534.7" cy="223.3" r="8.2" fill="url(#gC)" opacity="0.34"/>
<circle cx="534.7" cy="204.3" r="7.6" fill="url(#gC)" opacity="0.18"/>
<circle cx="534.7" cy="183.6" r="7.5" fill="url(#gC)" opacity="0.15"/>
<circle cx="534.7" cy="167.5" r="7.7" fill="url(#gC)" opacity="0.20"/>
<circle cx="534.7" cy="147.4" r="8.3" fill="url(#gC)" opacity="0.38"/>
<circle cx="534.7" cy="98.8" r="8.3" fill="url(#gC)" opacity="0.35"/>
<circle cx="534.7" cy="76.6" r="7.5" fill="url(#gC)" opacity="0.15"/>
<circle cx="534.7" cy="53.7" r="8.2" fill="url(#gC)" opacity="0.33"/>
<circle cx="534.7" cy="30.8" r="7.5" fill="url(#gC)" opacity="0.13"/>
<circle cx="556.4" cy="270.0" r="8.1" fill="url(#gC)" opacity="0.29"/>
<circle cx="556.4" cy="246.3" r="8.3" fill="url(#gC)" opacity="0.35"/>
<circle cx="556.4" cy="223.3" r="9.8" fill="url(#gC)" opacity="0.79"/>
<circle cx="556.4" cy="204.3" r="8.5" fill="url(#gC)" opacity="0.41"/>
<circle cx="556.4" cy="183.6" r="8.3" fill="url(#gC)" opacity="0.35"/>
<circle cx="556.4" cy="167.5" r="8.7" fill="url(#gC)" opacity="0.47"/>
<circle cx="556.4" cy="147.4" r="10.1" fill="url(#gC)" opacity="0.88"/>
<circle cx="556.4" cy="120.4" r="8.3" fill="url(#gC)" opacity="0.35"/>
<circle cx="556.4" cy="76.6" r="8.3" fill="url(#gC)" opacity="0.35"/>
<circle cx="556.4" cy="53.7" r="9.7" fill="url(#gC)" opacity="0.76"/>
<circle cx="556.4" cy="30.8" r="8.1" fill="url(#gC)" opacity="0.29"/>
<circle cx="578.6" cy="270.0" r="7.5" fill="url(#gC)" opacity="0.13"/>
<circle cx="578.6" cy="246.3" r="7.5" fill="url(#gC)" opacity="0.15"/>
<circle cx="578.6" cy="223.3" r="8.2" fill="url(#gC)" opacity="0.34"/>
<circle cx="578.6" cy="204.3" r="7.6" fill="url(#gC)" opacity="0.18"/>
<circle cx="578.6" cy="183.6" r="7.5" fill="url(#gC)" opacity="0.15"/>
<circle cx="578.6" cy="167.5" r="7.7" fill="url(#gC)" opacity="0.20"/>
<circle cx="578.6" cy="147.4" r="8.3" fill="url(#gC)" opacity="0.38"/>
<circle cx="578.6" cy="120.4" r="7.5" fill="url(#gC)" opacity="0.15"/>
<circle cx="578.6" cy="98.8" r="8.3" fill="url(#gC)" opacity="0.35"/>
<circle cx="578.6" cy="53.7" r="8.2" fill="url(#gC)" opacity="0.33"/>
<circle cx="578.6" cy="30.8" r="7.5" fill="url(#gC)" opacity="0.13"/>
<circle cx="601.6" cy="270.0" r="8.0" fill="url(#gC)" opacity="0.27"/>
<circle cx="601.6" cy="246.3" r="8.2" fill="url(#gC)" opacity="0.33"/>
<circle cx="601.6" cy="223.3" r="9.6" fill="url(#gC)" opacity="0.74"/>
<circle cx="601.6" cy="204.3" r="8.4" fill="url(#gC)" opacity="0.38"/>
<circle cx="601.6" cy="183.6" r="8.2" fill="url(#gC)" opacity="0.33"/>
<circle cx="601.6" cy="167.5" r="8.6" fill="url(#gC)" opacity="0.44"/>
<circle cx="601.6" cy="147.4" r="9.9" fill="url(#gC)" opacity="0.82"/>
<circle cx="601.6" cy="120.4" r="8.2" fill="url(#gC)" opacity="0.33"/>
<circle cx="601.6" cy="98.8" r="9.7" fill="url(#gC)" opacity="0.76"/>
<circle cx="601.6" cy="76.6" r="8.2" fill="url(#gC)" opacity="0.33"/>
<circle cx="601.6" cy="30.8" r="8.0" fill="url(#gC)" opacity="0.27"/>
<circle cx="624.6" cy="270.0" r="7.4" fill="url(#gC)" opacity="0.10"/>
<circle cx="624.6" cy="246.3" r="7.5" fill="url(#gC)" opacity="0.13"/>
<circle cx="624.6" cy="223.3" r="8.0" fill="url(#gC)" opacity="0.28"/>
<circle cx="624.6" cy="204.3" r="7.5" fill="url(#gC)" opacity="0.15"/>
<circle cx="624.6" cy="183.6" r="7.5" fill="url(#gC)" opacity="0.13"/>
<circle cx="624.6" cy="167.5" r="7.6" fill="url(#gC)" opacity="0.17"/>
<circle cx="624.6" cy="147.4" r="8.1" fill="url(#gC)" opacity="0.32"/>
<circle cx="624.6" cy="120.4" r="7.5" fill="url(#gC)" opacity="0.13"/>
<circle cx="624.6" cy="98.8" r="8.1" fill="url(#gC)" opacity="0.29"/>
<circle cx="624.6" cy="76.6" r="7.5" fill="url(#gC)" opacity="0.13"/>
<circle cx="624.6" cy="53.7" r="8.0" fill="url(#gC)" opacity="0.27"/>
<rect x="395.0" y="235.2" width="1.1" height="1.1" fill="#ef7676"/>
<rect x="395.0" y="213.1" width="1.1" height="1.1" fill="#ef7676"/>
<rect x="395.0" y="193.6" width="1.1" height="1.1" fill="#ef7676"/>
<rect x="395.0" y="178.4" width="1.1" height="1.1" fill="#ef7676"/>
<rect x="395.0" y="163.8" width="1.1" height="1.1" fill="#ef7676"/>
<rect x="395.0" y="133.9" width="1.1" height="1.1" fill="#ef7676"/>
<rect x="395.0" y="112.2" width="1.1" height="1.1" fill="#ef7676"/>
<rect x="395.0" y="86.9" width="1.1" height="1.1" fill="#ef7676"/>
<rect x="395.0" y="65.0" width="1.1" height="1.1" fill="#ef7676"/>
<rect x="395.0" y="40.4" width="1.1" height="1.1" fill="#ef7676"/>
<rect x="419.2" y="259.3" width="1.1" height="1.1" fill="#ef7676"/>
<rect x="419.2" y="213.1" width="1.1" height="1.1" fill="#ef7676"/>
<rect x="419.2" y="193.6" width="1.1" height="1.1" fill="#ef7676"/>
<rect x="419.2" y="178.4" width="1.1" height="1.1" fill="#ef7676"/>
<rect x="419.2" y="163.8" width="1.1" height="1.1" fill="#ef7676"/>
<rect x="419.2" y="133.9" width="1.1" height="1.1" fill="#ef7676"/>
<rect x="419.2" y="112.2" width="1.1" height="1.1" fill="#ef7676"/>
<rect x="419.2" y="86.9" width="1.1" height="1.1" fill="#ef7676"/>
<rect x="419.2" y="65.0" width="1.1" height="1.1" fill="#ef7676"/>
<rect x="419.2" y="40.4" width="1.1" height="1.1" fill="#ef7676"/>
<rect x="441.4" y="259.3" width="1.1" height="1.1" fill="#ef7676"/>
<rect x="441.4" y="235.2" width="1.1" height="1.1" fill="#ef7676"/>
<rect x="441.4" y="193.6" width="1.1" height="1.1" fill="#ef7676"/>
<rect x="441.4" y="178.4" width="1.1" height="1.1" fill="#ef7676"/>
<rect x="441.4" y="163.8" width="1.1" height="1.1" fill="#ef7676"/>
<rect x="441.4" y="133.9" width="1.1" height="1.1" fill="#ef7676"/>
<rect x="441.4" y="112.2" width="1.1" height="1.1" fill="#ef7676"/>
<rect x="441.4" y="86.9" width="1.1" height="1.1" fill="#ef7676"/>
<rect x="441.4" y="65.0" width="1.1" height="1.1" fill="#ef7676"/>
<rect x="441.4" y="40.4" width="1.1" height="1.1" fill="#ef7676"/>
<rect x="461.0" y="259.3" width="1.1" height="1.1" fill="#ef7676"/>
<rect x="461.0" y="235.2" width="1.1" height="1.1" fill="#ef7676"/>
<rect x="461.0" y="213.1" width="1.1" height="1.1" fill="#ef7676"/>
<rect x="461.0" y="178.4" width="1.1" height="1.1" fill="#ef7676"/>
<rect x="461.0" y="163.8" width="1.1" height="1.1" fill="#ef7676"/>
<rect x="461.0" y="133.9" width="1.1" height="1.1" fill="#ef7676"/>
<rect x="461.0" y="112.2" width="1.1" height="1.1" fill="#ef7676"/>
<rect x="461.0" y="86.9" width="1.1" height="1.1" fill="#ef7676"/>
<rect x="461.0" y="65.0" width="1.1" height="1.1" fill="#ef7676"/>
<rect x="461.0" y="40.4" width="1.1" height="1.1" fill="#ef7676"/>
<rect x="476.2" y="259.3" width="1.1" height="1.1" fill="#ef7676"/>
<rect x="476.2" y="235.2" width="1.1" height="1.1" fill="#ef7676"/>
<rect x="476.2" y="213.1" width="1.1" height="1.1" fill="#ef7676"/>
<rect x="476.2" y="193.6" width="1.1" height="1.1" fill="#ef7676"/>
<rect x="476.2" y="163.8" width="1.1" height="1.1" fill="#ef7676"/>
<rect x="476.2" y="133.9" width="1.1" height="1.1" fill="#ef7676"/>
<rect x="476.2" y="112.2" width="1.1" height="1.1" fill="#ef7676"/>
<rect x="476.2" y="86.9" width="1.1" height="1.1" fill="#ef7676"/>
<rect x="476.2" y="65.0" width="1.1" height="1.1" fill="#ef7676"/>
<rect x="476.2" y="40.4" width="1.1" height="1.1" fill="#ef7676"/>
<rect x="490.9" y="259.3" width="1.1" height="1.1" fill="#ef7676"/>
<rect x="490.9" y="235.2" width="1.1" height="1.1" fill="#ef7676"/>
<rect x="490.9" y="213.1" width="1.1" height="1.1" fill="#ef7676"/>
<rect x="490.9" y="193.6" width="1.1" height="1.1" fill="#ef7676"/>
<rect x="490.9" y="178.4" width="1.1" height="1.1" fill="#ef7676"/>
<rect x="490.9" y="133.9" width="1.1" height="1.1" fill="#ef7676"/>
<rect x="490.9" y="112.2" width="1.1" height="1.1" fill="#ef7676"/>
<rect x="490.9" y="86.9" width="1.1" height="1.1" fill="#ef7676"/>
<rect x="490.9" y="65.0" width="1.1" height="1.1" fill="#ef7676"/>
<rect x="490.9" y="40.4" width="1.1" height="1.1" fill="#ef7676"/>
<rect x="520.9" y="259.3" width="1.1" height="1.1" fill="#ef7676"/>
<rect x="520.9" y="235.2" width="1.1" height="1.1" fill="#ef7676"/>
<rect x="520.9" y="213.1" width="1.1" height="1.1" fill="#ef7676"/>
<rect x="520.9" y="193.6" width="1.1" height="1.1" fill="#ef7676"/>
<rect x="520.9" y="178.4" width="1.1" height="1.1" fill="#ef7676"/>
<rect x="520.9" y="163.8" width="1.1" height="1.1" fill="#ef7676"/>
<rect x="520.9" y="112.2" width="1.1" height="1.1" fill="#ef7676"/>
<rect x="520.9" y="86.9" width="1.1" height="1.1" fill="#ef7676"/>
<rect x="520.9" y="65.0" width="1.1" height="1.1" fill="#ef7676"/>
<rect x="520.9" y="40.4" width="1.1" height="1.1" fill="#ef7676"/>
<rect x="542.6" y="259.3" width="1.1" height="1.1" fill="#ef7676"/>
<rect x="542.6" y="235.2" width="1.1" height="1.1" fill="#ef7676"/>
<rect x="542.6" y="213.1" width="1.1" height="1.1" fill="#ef7676"/>
<rect x="542.6" y="193.6" width="1.1" height="1.1" fill="#ef7676"/>
<rect x="542.6" y="178.4" width="1.1" height="1.1" fill="#ef7676"/>
<rect x="542.6" y="163.8" width="1.1" height="1.1" fill="#ef7676"/>
<rect x="542.6" y="133.9" width="1.1" height="1.1" fill="#ef7676"/>
<rect x="542.6" y="86.9" width="1.1" height="1.1" fill="#ef7676"/>
<rect x="542.6" y="65.0" width="1.1" height="1.1" fill="#ef7676"/>
<rect x="542.6" y="40.4" width="1.1" height="1.1" fill="#ef7676"/>
<rect x="568.1" y="259.3" width="1.1" height="1.1" fill="#ef7676"/>
<rect x="568.1" y="235.2" width="1.1" height="1.1" fill="#ef7676"/>
<rect x="568.1" y="213.1" width="1.1" height="1.1" fill="#ef7676"/>
<rect x="568.1" y="193.6" width="1.1" height="1.1" fill="#ef7676"/>
<rect x="568.1" y="178.4" width="1.1" height="1.1" fill="#ef7676"/>
<rect x="568.1" y="163.8" width="1.1" height="1.1" fill="#ef7676"/>
<rect x="568.1" y="133.9" width="1.1" height="1.1" fill="#ef7676"/>
<rect x="568.1" y="112.2" width="1.1" height="1.1" fill="#ef7676"/>
<rect x="568.1" y="65.0" width="1.1" height="1.1" fill="#ef7676"/>
<rect x="568.1" y="40.4" width="1.1" height="1.1" fill="#ef7676"/>
<rect x="590.0" y="259.3" width="1.1" height="1.1" fill="#ef7676"/>
<rect x="590.0" y="235.2" width="1.1" height="1.1" fill="#ef7676"/>
<rect x="590.0" y="213.1" width="1.1" height="1.1" fill="#ef7676"/>
<rect x="590.0" y="193.6" width="1.1" height="1.1" fill="#ef7676"/>
<rect x="590.0" y="178.4" width="1.1" height="1.1" fill="#ef7676"/>
<rect x="590.0" y="163.8" width="1.1" height="1.1" fill="#ef7676"/>
<rect x="590.0" y="133.9" width="1.1" height="1.1" fill="#ef7676"/>
<rect x="590.0" y="112.2" width="1.1" height="1.1" fill="#ef7676"/>
<rect x="590.0" y="86.9" width="1.1" height="1.1" fill="#ef7676"/>
<rect x="590.0" y="40.4" width="1.1" height="1.1" fill="#ef7676"/>
<rect x="614.6" y="259.3" width="1.1" height="1.1" fill="#ef7676"/>
<rect x="614.6" y="235.2" width="1.1" height="1.1" fill="#ef7676"/>
<rect x="614.6" y="213.1" width="1.1" height="1.1" fill="#ef7676"/>
<rect x="614.6" y="193.6" width="1.1" height="1.1" fill="#ef7676"/>
<rect x="614.6" y="178.4" width="1.1" height="1.1" fill="#ef7676"/>
<rect x="614.6" y="163.8" width="1.1" height="1.1" fill="#ef7676"/>
<rect x="614.6" y="133.9" width="1.1" height="1.1" fill="#ef7676"/>
<rect x="614.6" y="112.2" width="1.1" height="1.1" fill="#ef7676"/>
<rect x="614.6" y="86.9" width="1.1" height="1.1" fill="#ef7676"/>
<rect x="614.6" y="65.0" width="1.1" height="1.1" fill="#ef7676"/>
<rect x="384.6" y="246.3" width="23.8" height="23.7" fill="url(#gD)"/>
<rect x="384.6" y="263.8" width="6.3" height="6.2" fill="#e53a3a" fill-opacity="0.21"/>
<rect x="390.2" y="260.6" width="3.9" height="3.8" fill="#e53a3a" fill-opacity="0.12"/>
<rect x="393.9" y="258.3" width="2.5" height="2.5" fill="#e53a3a" fill-opacity="0.19"/>
<rect x="396.2" y="253.2" width="5.3" height="5.3" fill="#e53a3a" fill-opacity="0.12"/>
<rect x="399.7" y="250.9" width="4.0" height="4.0" fill="#e53a3a" fill-opacity="0.14"/>
<rect x="402.9" y="246.3" width="5.5" height="5.5" fill="#e53a3a" fill-opacity="0.22"/>
<rect x="384.6" y="246.3" width="23.8" height="23.7" fill="#ee6060" fill-opacity="0.04"/>
<line x1="399.4" y1="246.3" x2="399.4" y2="270.0" stroke="#fff" stroke-opacity="0.22" stroke-width="0.5"/>
<line x1="384.6" y1="250.1" x2="408.4" y2="250.1" stroke="#fff" stroke-opacity="0.16" stroke-width="0.4"/>
<line x1="385.4" y1="246.3" x2="385.4" y2="270.0" stroke="#fff" stroke-opacity="0.14" stroke-width="0.6"/>
<line x1="384.6" y1="268.1" x2="408.4" y2="268.1" stroke="#fff" stroke-opacity="0.16" stroke-width="0.7"/>
<line x1="396.4" y1="246.3" x2="396.4" y2="270.0" stroke="#fff" stroke-opacity="0.10" stroke-width="0.4"/>
<line x1="384.6" y1="250.9" x2="408.4" y2="250.9" stroke="#fff" stroke-opacity="0.17" stroke-width="0.5"/>
<line x1="393.4" y1="246.3" x2="393.4" y2="270.0" stroke="#fff" stroke-opacity="0.06" stroke-width="0.8"/>
<line x1="384.6" y1="250.0" x2="408.4" y2="250.0" stroke="#fff" stroke-opacity="0.10" stroke-width="0.8"/>
<line x1="396.7" y1="246.3" x2="396.7" y2="270.0" stroke="#fff" stroke-opacity="0.20" stroke-width="0.7"/>
<line x1="384.6" y1="263.9" x2="408.4" y2="263.9" stroke="#fff" stroke-opacity="0.07" stroke-width="0.7"/>
<line x1="396.7" y1="246.3" x2="396.7" y2="270.0" stroke="#fff" stroke-opacity="0.20" stroke-width="0.6"/>
<line x1="384.6" y1="260.5" x2="408.4" y2="260.5" stroke="#fff" stroke-opacity="0.07" stroke-width="0.6"/>
<line x1="392.3" y1="246.3" x2="392.3" y2="270.0" stroke="#fff" stroke-opacity="0.08" stroke-width="0.8"/>
<line x1="384.6" y1="255.3" x2="408.4" y2="255.3" stroke="#fff" stroke-opacity="0.22" stroke-width="0.7"/>
<line x1="399.0" y1="246.3" x2="399.0" y2="270.0" stroke="#fff" stroke-opacity="0.16" stroke-width="0.7"/>
<line x1="384.6" y1="249.9" x2="408.4" y2="249.9" stroke="#fff" stroke-opacity="0.13" stroke-width="0.5"/>
<line x1="394.2" y1="246.3" x2="394.2" y2="270.0" stroke="#fff" stroke-opacity="0.08" stroke-width="0.9"/>
<line x1="384.6" y1="251.4" x2="408.4" y2="251.4" stroke="#fff" stroke-opacity="0.17" stroke-width="0.6"/>
<line x1="405.4" y1="246.3" x2="405.4" y2="270.0" stroke="#fff" stroke-opacity="0.17" stroke-width="0.5"/>
<line x1="384.6" y1="266.4" x2="408.4" y2="266.4" stroke="#fff" stroke-opacity="0.21" stroke-width="0.9"/>
<line x1="398.2" y1="246.3" x2="398.2" y2="270.0" stroke="#fff" stroke-opacity="0.08" stroke-width="0.5"/>
<line x1="384.6" y1="268.4" x2="408.4" y2="268.4" stroke="#fff" stroke-opacity="0.15" stroke-width="0.5"/>
<line x1="405.6" y1="246.3" x2="405.6" y2="270.0" stroke="#fff" stroke-opacity="0.16" stroke-width="0.7"/>
<line x1="384.6" y1="255.2" x2="408.4" y2="255.2" stroke="#fff" stroke-opacity="0.13" stroke-width="0.5"/>
<line x1="385.5" y1="246.3" x2="385.5" y2="270.0" stroke="#fff" stroke-opacity="0.20" stroke-width="0.6"/>
<line x1="384.6" y1="259.3" x2="408.4" y2="259.3" stroke="#fff" stroke-opacity="0.11" stroke-width="0.8"/>
<line x1="385.2" y1="246.3" x2="385.2" y2="270.0" stroke="#fff" stroke-opacity="0.12" stroke-width="0.4"/>
<line x1="384.6" y1="249.2" x2="408.4" y2="249.2" stroke="#fff" stroke-opacity="0.21" stroke-width="0.7"/>
<rect x="408.4" y="223.3" width="23.1" height="23.0" fill="url(#gD)"/>
<rect x="408.4" y="241.2" width="5.1" height="5.1" fill="#e53a3a" fill-opacity="0.15"/>
<rect x="413.2" y="237.0" width="4.6" height="4.6" fill="#e53a3a" fill-opacity="0.16"/>
<rect x="417.1" y="233.0" width="4.6" height="4.6" fill="#e53a3a" fill-opacity="0.15"/>
<rect x="421.2" y="225.6" width="8.0" height="7.9" fill="#e53a3a" fill-opacity="0.10"/>
<rect x="429.0" y="223.3" width="2.5" height="2.5" fill="#e53a3a" fill-opacity="0.19"/>
<rect x="408.4" y="223.3" width="23.1" height="23.0" fill="#ee6060" fill-opacity="0.04"/>
<line x1="411.6" y1="223.3" x2="411.6" y2="246.3" stroke="#fff" stroke-opacity="0.13" stroke-width="0.8"/>
<line x1="408.4" y1="223.6" x2="431.5" y2="223.6" stroke="#fff" stroke-opacity="0.16" stroke-width="0.8"/>
<line x1="420.3" y1="223.3" x2="420.3" y2="246.3" stroke="#fff" stroke-opacity="0.18" stroke-width="0.5"/>
<line x1="408.4" y1="227.8" x2="431.5" y2="227.8" stroke="#fff" stroke-opacity="0.12" stroke-width="0.5"/>
<line x1="416.4" y1="223.3" x2="416.4" y2="246.3" stroke="#fff" stroke-opacity="0.21" stroke-width="0.7"/>
<line x1="408.4" y1="231.1" x2="431.5" y2="231.1" stroke="#fff" stroke-opacity="0.10" stroke-width="0.9"/>
<line x1="418.7" y1="223.3" x2="418.7" y2="246.3" stroke="#fff" stroke-opacity="0.22" stroke-width="0.7"/>
<line x1="408.4" y1="235.3" x2="431.5" y2="235.3" stroke="#fff" stroke-opacity="0.20" stroke-width="0.8"/>
<line x1="421.8" y1="223.3" x2="421.8" y2="246.3" stroke="#fff" stroke-opacity="0.13" stroke-width="0.8"/>
<line x1="408.4" y1="232.8" x2="431.5" y2="232.8" stroke="#fff" stroke-opacity="0.21" stroke-width="0.4"/>
<line x1="418.3" y1="223.3" x2="418.3" y2="246.3" stroke="#fff" stroke-opacity="0.14" stroke-width="0.9"/>
<line x1="408.4" y1="229.1" x2="431.5" y2="229.1" stroke="#fff" stroke-opacity="0.19" stroke-width="0.7"/>
<line x1="425.0" y1="223.3" x2="425.0" y2="246.3" stroke="#fff" stroke-opacity="0.16" stroke-width="0.9"/>
<line x1="408.4" y1="230.9" x2="431.5" y2="230.9" stroke="#fff" stroke-opacity="0.12" stroke-width="0.5"/>
<line x1="409.6" y1="223.3" x2="409.6" y2="246.3" stroke="#fff" stroke-opacity="0.09" stroke-width="0.9"/>
<line x1="408.4" y1="242.7" x2="431.5" y2="242.7" stroke="#fff" stroke-opacity="0.08" stroke-width="0.7"/>
<line x1="419.5" y1="223.3" x2="419.5" y2="246.3" stroke="#fff" stroke-opacity="0.16" stroke-width="0.7"/>
<line x1="408.4" y1="230.3" x2="431.5" y2="230.3" stroke="#fff" stroke-opacity="0.21" stroke-width="0.6"/>
<line x1="422.9" y1="223.3" x2="422.9" y2="246.3" stroke="#fff" stroke-opacity="0.16" stroke-width="0.5"/>
<line x1="408.4" y1="224.7" x2="431.5" y2="224.7" stroke="#fff" stroke-opacity="0.13" stroke-width="0.8"/>
<line x1="427.2" y1="223.3" x2="427.2" y2="246.3" stroke="#fff" stroke-opacity="0.18" stroke-width="0.5"/>
<line x1="408.4" y1="244.4" x2="431.5" y2="244.4" stroke="#fff" stroke-opacity="0.19" stroke-width="0.8"/>
<line x1="420.5" y1="223.3" x2="420.5" y2="246.3" stroke="#fff" stroke-opacity="0.21" stroke-width="0.4"/>
<line x1="408.4" y1="224.0" x2="431.5" y2="224.0" stroke="#fff" stroke-opacity="0.06" stroke-width="0.5"/>
<line x1="414.1" y1="223.3" x2="414.1" y2="246.3" stroke="#fff" stroke-opacity="0.09" stroke-width="0.7"/>
<line x1="408.4" y1="224.2" x2="431.5" y2="224.2" stroke="#fff" stroke-opacity="0.15" stroke-width="0.5"/>
<line x1="424.1" y1="223.3" x2="424.1" y2="246.3" stroke="#fff" stroke-opacity="0.06" stroke-width="0.6"/>
<line x1="408.4" y1="244.9" x2="431.5" y2="244.9" stroke="#fff" stroke-opacity="0.15" stroke-width="0.8"/>
<rect x="431.5" y="204.3" width="19.0" height="18.9" fill="url(#gD)"/>
<rect x="431.5" y="204.3" width="19.0" height="18.9" fill="url(#gE)"/>
<rect x="431.5" y="216.8" width="6.4" height="6.4" fill="#e53a3a" fill-opacity="0.17"/>
<rect x="435.6" y="213.2" width="5.9" height="5.9" fill="#e53a3a" fill-opacity="0.09"/>
<rect x="441.0" y="205.5" width="8.3" height="8.2" fill="#e53a3a" fill-opacity="0.20"/>
<rect x="445.7" y="204.5" width="4.5" height="4.5" fill="#e53a3a" fill-opacity="0.12"/>
<rect x="448.5" y="204.3" width="2.0" height="2.0" fill="#e53a3a" fill-opacity="0.19"/>
<rect x="431.5" y="204.3" width="19.0" height="18.9" fill="#ee6060" fill-opacity="0.04"/>
<line x1="447.9" y1="204.3" x2="447.9" y2="223.3" stroke="#fff" stroke-opacity="0.19" stroke-width="0.5"/>
<line x1="431.5" y1="218.9" x2="450.5" y2="218.9" stroke="#fff" stroke-opacity="0.20" stroke-width="0.5"/>
<line x1="442.4" y1="204.3" x2="442.4" y2="223.3" stroke="#fff" stroke-opacity="0.16" stroke-width="0.7"/>
<line x1="431.5" y1="206.1" x2="450.5" y2="206.1" stroke="#fff" stroke-opacity="0.17" stroke-width="0.7"/>
<line x1="447.2" y1="204.3" x2="447.2" y2="223.3" stroke="#fff" stroke-opacity="0.19" stroke-width="0.6"/>
<line x1="431.5" y1="218.0" x2="450.5" y2="218.0" stroke="#fff" stroke-opacity="0.20" stroke-width="0.8"/>
<line x1="434.6" y1="204.3" x2="434.6" y2="223.3" stroke="#fff" stroke-opacity="0.06" stroke-width="0.7"/>
<line x1="431.5" y1="208.4" x2="450.5" y2="208.4" stroke="#fff" stroke-opacity="0.15" stroke-width="0.9"/>
<line x1="438.7" y1="204.3" x2="438.7" y2="223.3" stroke="#fff" stroke-opacity="0.10" stroke-width="0.6"/>
<line x1="431.5" y1="216.8" x2="450.5" y2="216.8" stroke="#fff" stroke-opacity="0.08" stroke-width="0.6"/>
<line x1="434.0" y1="204.3" x2="434.0" y2="223.3" stroke="#fff" stroke-opacity="0.17" stroke-width="0.8"/>
<line x1="431.5" y1="211.5" x2="450.5" y2="211.5" stroke="#fff" stroke-opacity="0.12" stroke-width="0.7"/>
<line x1="435.6" y1="204.3" x2="435.6" y2="223.3" stroke="#fff" stroke-opacity="0.10" stroke-width="0.6"/>
<line x1="431.5" y1="213.0" x2="450.5" y2="213.0" stroke="#fff" stroke-opacity="0.07" stroke-width="0.8"/>
<line x1="442.5" y1="204.3" x2="442.5" y2="223.3" stroke="#fff" stroke-opacity="0.11" stroke-width="0.4"/>
<line x1="431.5" y1="218.8" x2="450.5" y2="218.8" stroke="#fff" stroke-opacity="0.08" stroke-width="0.5"/>
<line x1="434.0" y1="204.3" x2="434.0" y2="223.3" stroke="#fff" stroke-opacity="0.07" stroke-width="0.9"/>
<line x1="431.5" y1="209.4" x2="450.5" y2="209.4" stroke="#fff" stroke-opacity="0.11" stroke-width="0.8"/>
<line x1="443.3" y1="204.3" x2="443.3" y2="223.3" stroke="#fff" stroke-opacity="0.09" stroke-width="0.6"/>
<line x1="431.5" y1="221.1" x2="450.5" y2="221.1" stroke="#fff" stroke-opacity="0.12" stroke-width="0.8"/>
<line x1="433.3" y1="204.3" x2="433.3" y2="223.3" stroke="#fff" stroke-opacity="0.18" stroke-width="0.8"/>
<line x1="431.5" y1="220.0" x2="450.5" y2="220.0" stroke="#fff" stroke-opacity="0.17" stroke-width="0.6"/>
<rect x="450.5" y="183.6" width="20.8" height="20.7" fill="url(#gD)"/>
<rect x="450.5" y="201.4" width="2.9" height="2.9" fill="#e53a3a" fill-opacity="0.15"/>
<rect x="453.1" y="198.1" width="3.6" height="3.6" fill="#e53a3a" fill-opacity="0.12"/>
<rect x="456.0" y="191.9" width="7.0" height="7.0" fill="#e53a3a" fill-opacity="0.21"/>
<rect x="460.2" y="191.1" width="3.6" height="3.6" fill="#e53a3a" fill-opacity="0.19"/>
<rect x="463.2" y="184.8" width="6.8" height="6.8" fill="#e53a3a" fill-opacity="0.22"/>
<rect x="450.5" y="183.6" width="20.8" height="20.7" fill="#ee6060" fill-opacity="0.04"/>
<line x1="468.0" y1="183.6" x2="468.0" y2="204.3" stroke="#fff" stroke-opacity="0.18" stroke-width="0.6"/>
<line x1="450.5" y1="196.9" x2="471.3" y2="196.9" stroke="#fff" stroke-opacity="0.09" stroke-width="0.8"/>
<line x1="466.3" y1="183.6" x2="466.3" y2="204.3" stroke="#fff" stroke-opacity="0.18" stroke-width="0.6"/>
<line x1="450.5" y1="191.5" x2="471.3" y2="191.5" stroke="#fff" stroke-opacity="0.13" stroke-width="0.4"/>
<line x1="468.1" y1="183.6" x2="468.1" y2="204.3" stroke="#fff" stroke-opacity="0.15" stroke-width="0.6"/>
<line x1="450.5" y1="195.0" x2="471.3" y2="195.0" stroke="#fff" stroke-opacity="0.18" stroke-width="0.6"/>
<line x1="467.8" y1="183.6" x2="467.8" y2="204.3" stroke="#fff" stroke-opacity="0.21" stroke-width="0.6"/>
<line x1="450.5" y1="186.5" x2="471.3" y2="186.5" stroke="#fff" stroke-opacity="0.18" stroke-width="0.9"/>
<line x1="453.6" y1="183.6" x2="453.6" y2="204.3" stroke="#fff" stroke-opacity="0.17" stroke-width="0.8"/>
<line x1="450.5" y1="202.7" x2="471.3" y2="202.7" stroke="#fff" stroke-opacity="0.08" stroke-width="0.4"/>
<line x1="471.0" y1="183.6" x2="471.0" y2="204.3" stroke="#fff" stroke-opacity="0.08" stroke-width="0.5"/>
<line x1="450.5" y1="195.5" x2="471.3" y2="195.5" stroke="#fff" stroke-opacity="0.13" stroke-width="0.8"/>
<line x1="454.5" y1="183.6" x2="454.5" y2="204.3" stroke="#fff" stroke-opacity="0.21" stroke-width="0.5"/>
<line x1="450.5" y1="199.6" x2="471.3" y2="199.6" stroke="#fff" stroke-opacity="0.07" stroke-width="0.6"/>
<line x1="451.2" y1="183.6" x2="451.2" y2="204.3" stroke="#fff" stroke-opacity="0.11" stroke-width="0.6"/>
<line x1="450.5" y1="198.6" x2="471.3" y2="198.6" stroke="#fff" stroke-opacity="0.13" stroke-width="0.4"/>
<line x1="471.2" y1="183.6" x2="471.2" y2="204.3" stroke="#fff" stroke-opacity="0.20" stroke-width="0.9"/>
<line x1="450.5" y1="188.7" x2="471.3" y2="188.7" stroke="#fff" stroke-opacity="0.12" stroke-width="0.5"/>
<line x1="453.1" y1="183.6" x2="453.1" y2="204.3" stroke="#fff" stroke-opacity="0.07" stroke-width="0.7"/>
<line x1="450.5" y1="186.2" x2="471.3" y2="186.2" stroke="#fff" stroke-opacity="0.09" stroke-width="0.8"/>
<line x1="460.6" y1="183.6" x2="460.6" y2="204.3" stroke="#fff" stroke-opacity="0.09" stroke-width="0.7"/>
<line x1="450.5" y1="189.1" x2="471.3" y2="189.1" stroke="#fff" stroke-opacity="0.14" stroke-width="0.5"/>
<line x1="461.2" y1="183.6" x2="461.2" y2="204.3" stroke="#fff" stroke-opacity="0.16" stroke-width="0.7"/>
<line x1="450.5" y1="191.8" x2="471.3" y2="191.8" stroke="#fff" stroke-opacity="0.19" stroke-width="0.8"/>
<line x1="454.2" y1="183.6" x2="454.2" y2="204.3" stroke="#fff" stroke-opacity="0.08" stroke-width="0.5"/>
<line x1="450.5" y1="204.0" x2="471.3" y2="204.0" stroke="#fff" stroke-opacity="0.21" stroke-width="0.5"/>
<rect x="471.3" y="167.5" width="16.1" height="16.0" fill="url(#gD)"/>
<rect x="471.3" y="175.3" width="8.3" height="8.3" fill="#e53a3a" fill-opacity="0.11"/>
<rect x="477.8" y="171.7" width="5.5" height="5.5" fill="#e53a3a" fill-opacity="0.21"/>
<rect x="480.9" y="169.7" width="4.4" height="4.4" fill="#e53a3a" fill-opacity="0.16"/>
<rect x="483.4" y="167.6" width="3.9" height="3.9" fill="#e53a3a" fill-opacity="0.15"/>
<rect x="471.3" y="167.5" width="16.1" height="16.0" fill="#ee6060" fill-opacity="0.04"/>
<line x1="483.6" y1="167.5" x2="483.6" y2="183.6" stroke="#fff" stroke-opacity="0.19" stroke-width="0.8"/>
<line x1="471.3" y1="178.9" x2="487.4" y2="178.9" stroke="#fff" stroke-opacity="0.20" stroke-width="0.7"/>
<line x1="483.1" y1="167.5" x2="483.1" y2="183.6" stroke="#fff" stroke-opacity="0.11" stroke-width="0.5"/>
<line x1="471.3" y1="179.7" x2="487.4" y2="179.7" stroke="#fff" stroke-opacity="0.09" stroke-width="0.9"/>
<line x1="480.9" y1="167.5" x2="480.9" y2="183.6" stroke="#fff" stroke-opacity="0.11" stroke-width="0.9"/>
<line x1="471.3" y1="170.0" x2="487.4" y2="170.0" stroke="#fff" stroke-opacity="0.14" stroke-width="0.4"/>
<line x1="486.8" y1="167.5" x2="486.8" y2="183.6" stroke="#fff" stroke-opacity="0.15" stroke-width="0.8"/>
<line x1="471.3" y1="172.1" x2="487.4" y2="172.1" stroke="#fff" stroke-opacity="0.19" stroke-width="0.8"/>
<line x1="481.7" y1="167.5" x2="481.7" y2="183.6" stroke="#fff" stroke-opacity="0.21" stroke-width="0.6"/>
<line x1="471.3" y1="174.2" x2="487.4" y2="174.2" stroke="#fff" stroke-opacity="0.17" stroke-width="0.8"/>
<line x1="476.7" y1="167.5" x2="476.7" y2="183.6" stroke="#fff" stroke-opacity="0.17" stroke-width="0.5"/>
<line x1="471.3" y1="176.4" x2="487.4" y2="176.4" stroke="#fff" stroke-opacity="0.18" stroke-width="0.4"/>
<line x1="483.0" y1="167.5" x2="483.0" y2="183.6" stroke="#fff" stroke-opacity="0.06" stroke-width="0.9"/>
<line x1="471.3" y1="175.1" x2="487.4" y2="175.1" stroke="#fff" stroke-opacity="0.13" stroke-width="0.8"/>
<line x1="479.7" y1="167.5" x2="479.7" y2="183.6" stroke="#fff" stroke-opacity="0.18" stroke-width="0.4"/>
<line x1="471.3" y1="176.6" x2="487.4" y2="176.6" stroke="#fff" stroke-opacity="0.15" stroke-width="0.9"/>
<line x1="471.9" y1="167.5" x2="471.9" y2="183.6" stroke="#fff" stroke-opacity="0.13" stroke-width="0.7"/>
<line x1="471.3" y1="176.4" x2="487.4" y2="176.4" stroke="#fff" stroke-opacity="0.07" stroke-width="0.7"/>
<line x1="474.9" y1="167.5" x2="474.9" y2="183.6" stroke="#fff" stroke-opacity="0.09" stroke-width="0.8"/>
<line x1="471.3" y1="170.7" x2="487.4" y2="170.7" stroke="#fff" stroke-opacity="0.13" stroke-width="0.8"/>
<rect x="487.4" y="147.4" width="20.2" height="20.1" fill="url(#gD)"/>
<rect x="487.4" y="160.8" width="6.7" height="6.7" fill="#e53a3a" fill-opacity="0.16"/>
<rect x="493.6" y="156.1" width="5.3" height="5.3" fill="#e53a3a" fill-opacity="0.17"/>
<rect x="498.4" y="150.0" width="6.6" height="6.5" fill="#e53a3a" fill-opacity="0.17"/>
<rect x="503.2" y="147.4" width="4.4" height="4.4" fill="#e53a3a" fill-opacity="0.14"/>
<rect x="487.4" y="147.4" width="20.2" height="20.1" fill="#ee6060" fill-opacity="0.04"/>
<line x1="495.1" y1="147.4" x2="495.1" y2="167.5" stroke="#fff" stroke-opacity="0.13" stroke-width="0.8"/>
<line x1="487.4" y1="157.6" x2="507.6" y2="157.6" stroke="#fff" stroke-opacity="0.11" stroke-width="0.8"/>
<line x1="495.1" y1="147.4" x2="495.1" y2="167.5" stroke="#fff" stroke-opacity="0.20" stroke-width="0.8"/>
<line x1="487.4" y1="156.4" x2="507.6" y2="156.4" stroke="#fff" stroke-opacity="0.17" stroke-width="0.4"/>
<line x1="495.3" y1="147.4" x2="495.3" y2="167.5" stroke="#fff" stroke-opacity="0.20" stroke-width="0.7"/>
<line x1="487.4" y1="158.7" x2="507.6" y2="158.7" stroke="#fff" stroke-opacity="0.17" stroke-width="0.7"/>
<line x1="499.2" y1="147.4" x2="499.2" y2="167.5" stroke="#fff" stroke-opacity="0.13" stroke-width="0.5"/>
<line x1="487.4" y1="153.3" x2="507.6" y2="153.3" stroke="#fff" stroke-opacity="0.11" stroke-width="0.6"/>
<line x1="507.6" y1="147.4" x2="507.6" y2="167.5" stroke="#fff" stroke-opacity="0.12" stroke-width="0.6"/>
<line x1="487.4" y1="154.9" x2="507.6" y2="154.9" stroke="#fff" stroke-opacity="0.15" stroke-width="0.9"/>
<line x1="505.4" y1="147.4" x2="505.4" y2="167.5" stroke="#fff" stroke-opacity="0.12" stroke-width="0.5"/>
<line x1="487.4" y1="165.3" x2="507.6" y2="165.3" stroke="#fff" stroke-opacity="0.14" stroke-width="0.7"/>
<line x1="488.9" y1="147.4" x2="488.9" y2="167.5" stroke="#fff" stroke-opacity="0.20" stroke-width="0.6"/>
<line x1="487.4" y1="157.4" x2="507.6" y2="157.4" stroke="#fff" stroke-opacity="0.09" stroke-width="0.6"/>
<line x1="504.1" y1="147.4" x2="504.1" y2="167.5" stroke="#fff" stroke-opacity="0.19" stroke-width="0.6"/>
<line x1="487.4" y1="162.9" x2="507.6" y2="162.9" stroke="#fff" stroke-opacity="0.13" stroke-width="0.6"/>
<line x1="498.4" y1="147.4" x2="498.4" y2="167.5" stroke="#fff" stroke-opacity="0.09" stroke-width="0.6"/>
<line x1="487.4" y1="161.7" x2="507.6" y2="161.7" stroke="#fff" stroke-opacity="0.18" stroke-width="0.4"/>
<line x1="502.2" y1="147.4" x2="502.2" y2="167.5" stroke="#fff" stroke-opacity="0.19" stroke-width="0.6"/>
<line x1="487.4" y1="148.7" x2="507.6" y2="148.7" stroke="#fff" stroke-opacity="0.17" stroke-width="0.5"/>
<line x1="500.4" y1="147.4" x2="500.4" y2="167.5" stroke="#fff" stroke-opacity="0.12" stroke-width="0.7"/>
<line x1="487.4" y1="152.6" x2="507.6" y2="152.6" stroke="#fff" stroke-opacity="0.14" stroke-width="0.7"/>
<line x1="500.1" y1="147.4" x2="500.1" y2="167.5" stroke="#fff" stroke-opacity="0.09" stroke-width="0.9"/>
<line x1="487.4" y1="153.3" x2="507.6" y2="153.3" stroke="#fff" stroke-opacity="0.11" stroke-width="0.5"/>
<rect x="507.6" y="120.4" width="27.1" height="27.0" fill="url(#gD)"/>
<rect x="507.6" y="144.5" width="2.9" height="2.9" fill="#e53a3a" fill-opacity="0.14"/>
<rect x="510.2" y="138.1" width="6.8" height="6.7" fill="#e53a3a" fill-opacity="0.11"/>
<rect x="514.3" y="136.3" width="4.4" height="4.4" fill="#e53a3a" fill-opacity="0.19"/>
<rect x="517.7" y="129.3" width="8.0" height="8.0" fill="#e53a3a" fill-opacity="0.17"/>
<rect x="524.4" y="123.6" width="7.1" height="7.1" fill="#e53a3a" fill-opacity="0.19"/>
<rect x="529.4" y="121.6" width="4.0" height="4.0" fill="#e53a3a" fill-opacity="0.14"/>
<rect x="532.5" y="120.4" width="2.2" height="2.2" fill="#e53a3a" fill-opacity="0.14"/>
<rect x="507.6" y="120.4" width="27.1" height="27.0" fill="#ee6060" fill-opacity="0.04"/>
<line x1="511.3" y1="120.4" x2="511.3" y2="147.4" stroke="#fff" stroke-opacity="0.08" stroke-width="0.5"/>
<line x1="507.6" y1="128.1" x2="534.7" y2="128.1" stroke="#fff" stroke-opacity="0.21" stroke-width="0.4"/>
<line x1="512.6" y1="120.4" x2="512.6" y2="147.4" stroke="#fff" stroke-opacity="0.09" stroke-width="0.6"/>
<line x1="507.6" y1="120.8" x2="534.7" y2="120.8" stroke="#fff" stroke-opacity="0.13" stroke-width="0.5"/>
<line x1="514.9" y1="120.4" x2="514.9" y2="147.4" stroke="#fff" stroke-opacity="0.19" stroke-width="0.5"/>
<line x1="507.6" y1="137.1" x2="534.7" y2="137.1" stroke="#fff" stroke-opacity="0.13" stroke-width="0.6"/>
<line x1="529.7" y1="120.4" x2="529.7" y2="147.4" stroke="#fff" stroke-opacity="0.09" stroke-width="0.9"/>
<line x1="507.6" y1="144.6" x2="534.7" y2="144.6" stroke="#fff" stroke-opacity="0.17" stroke-width="0.4"/>
<line x1="525.6" y1="120.4" x2="525.6" y2="147.4" stroke="#fff" stroke-opacity="0.16" stroke-width="0.8"/>
<line x1="507.6" y1="126.2" x2="534.7" y2="126.2" stroke="#fff" stroke-opacity="0.21" stroke-width="0.8"/>
<line x1="510.7" y1="120.4" x2="510.7" y2="147.4" stroke="#fff" stroke-opacity="0.11" stroke-width="0.4"/>
<line x1="507.6" y1="142.9" x2="534.7" y2="142.9" stroke="#fff" stroke-opacity="0.21" stroke-width="0.9"/>
<line x1="524.2" y1="120.4" x2="524.2" y2="147.4" stroke="#fff" stroke-opacity="0.17" stroke-width="0.7"/>
<line x1="507.6" y1="135.9" x2="534.7" y2="135.9" stroke="#fff" stroke-opacity="0.21" stroke-width="0.7"/>
<line x1="516.7" y1="120.4" x2="516.7" y2="147.4" stroke="#fff" stroke-opacity="0.14" stroke-width="0.4"/>
<line x1="507.6" y1="140.0" x2="534.7" y2="140.0" stroke="#fff" stroke-opacity="0.17" stroke-width="0.6"/>
<line x1="530.7" y1="120.4" x2="530.7" y2="147.4" stroke="#fff" stroke-opacity="0.18" stroke-width="0.6"/>
<line x1="507.6" y1="122.5" x2="534.7" y2="122.5" stroke="#fff" stroke-opacity="0.08" stroke-width="0.5"/>
<line x1="515.8" y1="120.4" x2="515.8" y2="147.4" stroke="#fff" stroke-opacity="0.13" stroke-width="0.9"/>
<line x1="507.6" y1="127.9" x2="534.7" y2="127.9" stroke="#fff" stroke-opacity="0.20" stroke-width="0.7"/>
<line x1="530.7" y1="120.4" x2="530.7" y2="147.4" stroke="#fff" stroke-opacity="0.12" stroke-width="0.4"/>
<line x1="507.6" y1="141.7" x2="534.7" y2="141.7" stroke="#fff" stroke-opacity="0.10" stroke-width="0.5"/>
<line x1="529.3" y1="120.4" x2="529.3" y2="147.4" stroke="#fff" stroke-opacity="0.17" stroke-width="0.5"/>
<line x1="507.6" y1="127.7" x2="534.7" y2="127.7" stroke="#fff" stroke-opacity="0.21" stroke-width="0.5"/>
<line x1="526.6" y1="120.4" x2="526.6" y2="147.4" stroke="#fff" stroke-opacity="0.08" stroke-width="0.8"/>
<line x1="507.6" y1="123.6" x2="534.7" y2="123.6" stroke="#fff" stroke-opacity="0.14" stroke-width="0.4"/>
<line x1="522.5" y1="120.4" x2="522.5" y2="147.4" stroke="#fff" stroke-opacity="0.20" stroke-width="0.4"/>
<line x1="507.6" y1="127.8" x2="534.7" y2="127.8" stroke="#fff" stroke-opacity="0.18" stroke-width="0.7"/>
<line x1="516.1" y1="120.4" x2="516.1" y2="147.4" stroke="#fff" stroke-opacity="0.16" stroke-width="0.6"/>
<line x1="507.6" y1="143.8" x2="534.7" y2="143.8" stroke="#fff" stroke-opacity="0.11" stroke-width="0.8"/>
<line x1="524.8" y1="120.4" x2="524.8" y2="147.4" stroke="#fff" stroke-opacity="0.18" stroke-width="0.6"/>
<line x1="507.6" y1="140.0" x2="534.7" y2="140.0" stroke="#fff" stroke-opacity="0.17" stroke-width="0.6"/>
<rect x="534.7" y="98.8" width="21.7" height="21.6" fill="url(#gD)"/>
<rect x="534.7" y="117.8" width="2.7" height="2.6" fill="#e53a3a" fill-opacity="0.21"/>
<rect x="537.0" y="114.4" width="3.7" height="3.7" fill="#e53a3a" fill-opacity="0.18"/>
<rect x="539.5" y="110.3" width="5.3" height="5.3" fill="#e53a3a" fill-opacity="0.20"/>
<rect x="543.5" y="107.4" width="4.2" height="4.2" fill="#e53a3a" fill-opacity="0.12"/>
<rect x="546.0" y="105.3" width="3.8" height="3.8" fill="#e53a3a" fill-opacity="0.12"/>
<rect x="548.4" y="103.9" width="2.9" height="2.9" fill="#e53a3a" fill-opacity="0.15"/>
<rect x="550.3" y="98.8" width="6.1" height="6.1" fill="#e53a3a" fill-opacity="0.21"/>
<rect x="554.4" y="98.8" width="2.0" height="2.0" fill="#e53a3a" fill-opacity="0.15"/>
<rect x="534.7" y="98.8" width="21.7" height="21.6" fill="#ee6060" fill-opacity="0.04"/>
<line x1="537.4" y1="98.8" x2="537.4" y2="120.4" stroke="#fff" stroke-opacity="0.20" stroke-width="0.6"/>
<line x1="534.7" y1="116.2" x2="556.4" y2="116.2" stroke="#fff" stroke-opacity="0.07" stroke-width="0.7"/>
<line x1="553.5" y1="98.8" x2="553.5" y2="120.4" stroke="#fff" stroke-opacity="0.20" stroke-width="0.4"/>
<line x1="534.7" y1="110.1" x2="556.4" y2="110.1" stroke="#fff" stroke-opacity="0.12" stroke-width="0.8"/>
<line x1="536.3" y1="98.8" x2="536.3" y2="120.4" stroke="#fff" stroke-opacity="0.10" stroke-width="0.8"/>
<line x1="534.7" y1="109.0" x2="556.4" y2="109.0" stroke="#fff" stroke-opacity="0.13" stroke-width="0.9"/>
<line x1="541.6" y1="98.8" x2="541.6" y2="120.4" stroke="#fff" stroke-opacity="0.07" stroke-width="0.6"/>
<line x1="534.7" y1="102.1" x2="556.4" y2="102.1" stroke="#fff" stroke-opacity="0.07" stroke-width="0.7"/>
<line x1="555.4" y1="98.8" x2="555.4" y2="120.4" stroke="#fff" stroke-opacity="0.15" stroke-width="0.7"/>
<line x1="534.7" y1="105.8" x2="556.4" y2="105.8" stroke="#fff" stroke-opacity="0.15" stroke-width="0.8"/>
<line x1="547.5" y1="98.8" x2="547.5" y2="120.4" stroke="#fff" stroke-opacity="0.19" stroke-width="0.7"/>
<line x1="534.7" y1="103.1" x2="556.4" y2="103.1" stroke="#fff" stroke-opacity="0.15" stroke-width="0.6"/>
<line x1="538.3" y1="98.8" x2="538.3" y2="120.4" stroke="#fff" stroke-opacity="0.16" stroke-width="0.8"/>
<line x1="534.7" y1="101.7" x2="556.4" y2="101.7" stroke="#fff" stroke-opacity="0.15" stroke-width="0.8"/>
<line x1="543.4" y1="98.8" x2="543.4" y2="120.4" stroke="#fff" stroke-opacity="0.10" stroke-width="0.6"/>
<line x1="534.7" y1="110.5" x2="556.4" y2="110.5" stroke="#fff" stroke-opacity="0.17" stroke-width="0.7"/>
<line x1="537.0" y1="98.8" x2="537.0" y2="120.4" stroke="#fff" stroke-opacity="0.19" stroke-width="0.9"/>
<line x1="534.7" y1="101.0" x2="556.4" y2="101.0" stroke="#fff" stroke-opacity="0.10" stroke-width="0.5"/>
<line x1="553.1" y1="98.8" x2="553.1" y2="120.4" stroke="#fff" stroke-opacity="0.21" stroke-width="0.4"/>
<line x1="534.7" y1="106.0" x2="556.4" y2="106.0" stroke="#fff" stroke-opacity="0.09" stroke-width="0.6"/>
<line x1="554.7" y1="98.8" x2="554.7" y2="120.4" stroke="#fff" stroke-opacity="0.07" stroke-width="0.5"/>
<line x1="534.7" y1="109.3" x2="556.4" y2="109.3" stroke="#fff" stroke-opacity="0.14" stroke-width="0.8"/>
<line x1="544.2" y1="98.8" x2="544.2" y2="120.4" stroke="#fff" stroke-opacity="0.08" stroke-width="0.6"/>
<line x1="534.7" y1="120.1" x2="556.4" y2="120.1" stroke="#fff" stroke-opacity="0.18" stroke-width="0.5"/>
<line x1="552.2" y1="98.8" x2="552.2" y2="120.4" stroke="#fff" stroke-opacity="0.11" stroke-width="0.8"/>
<line x1="534.7" y1="99.0" x2="556.4" y2="99.0" stroke="#fff" stroke-opacity="0.20" stroke-width="0.5"/>
<rect x="556.4" y="76.6" width="22.2" height="22.1" fill="url(#gD)"/>
<rect x="556.4" y="93.6" width="5.2" height="5.2" fill="#e53a3a" fill-opacity="0.17"/>
<rect x="560.5" y="91.2" width="3.5" height="3.5" fill="#e53a3a" fill-opacity="0.10"/>
<rect x="562.8" y="89.5" width="2.8" height="2.8" fill="#e53a3a" fill-opacity="0.11"/>
<rect x="564.6" y="85.4" width="5.3" height="5.3" fill="#e53a3a" fill-opacity="0.13"/>
<rect x="568.9" y="82.2" width="4.2" height="4.2" fill="#e53a3a" fill-opacity="0.08"/>
<rect x="571.8" y="76.6" width="6.8" height="6.8" fill="#e53a3a" fill-opacity="0.12"/>
<rect x="576.8" y="76.6" width="1.8" height="1.8" fill="#e53a3a" fill-opacity="0.14"/>
<rect x="556.4" y="76.6" width="22.2" height="22.1" fill="#ee6060" fill-opacity="0.04"/>
<line x1="576.8" y1="76.6" x2="576.8" y2="98.8" stroke="#fff" stroke-opacity="0.11" stroke-width="0.8"/>
<line x1="556.4" y1="82.3" x2="578.6" y2="82.3" stroke="#fff" stroke-opacity="0.08" stroke-width="0.6"/>
<line x1="569.8" y1="76.6" x2="569.8" y2="98.8" stroke="#fff" stroke-opacity="0.21" stroke-width="0.5"/>
<line x1="556.4" y1="92.5" x2="578.6" y2="92.5" stroke="#fff" stroke-opacity="0.14" stroke-width="0.5"/>
<line x1="578.0" y1="76.6" x2="578.0" y2="98.8" stroke="#fff" stroke-opacity="0.17" stroke-width="0.5"/>
<line x1="556.4" y1="96.8" x2="578.6" y2="96.8" stroke="#fff" stroke-opacity="0.08" stroke-width="0.4"/>
<line x1="563.8" y1="76.6" x2="563.8" y2="98.8" stroke="#fff" stroke-opacity="0.21" stroke-width="0.4"/>
<line x1="556.4" y1="97.0" x2="578.6" y2="97.0" stroke="#fff" stroke-opacity="0.16" stroke-width="0.4"/>
<line x1="569.0" y1="76.6" x2="569.0" y2="98.8" stroke="#fff" stroke-opacity="0.13" stroke-width="0.7"/>
<line x1="556.4" y1="93.0" x2="578.6" y2="93.0" stroke="#fff" stroke-opacity="0.17" stroke-width="0.9"/>
<line x1="559.9" y1="76.6" x2="559.9" y2="98.8" stroke="#fff" stroke-opacity="0.19" stroke-width="0.6"/>
<line x1="556.4" y1="94.0" x2="578.6" y2="94.0" stroke="#fff" stroke-opacity="0.20" stroke-width="0.9"/>
<line x1="562.3" y1="76.6" x2="562.3" y2="98.8" stroke="#fff" stroke-opacity="0.13" stroke-width="0.9"/>
<line x1="556.4" y1="97.6" x2="578.6" y2="97.6" stroke="#fff" stroke-opacity="0.12" stroke-width="0.9"/>
<line x1="565.4" y1="76.6" x2="565.4" y2="98.8" stroke="#fff" stroke-opacity="0.12" stroke-width="0.8"/>
<line x1="556.4" y1="87.1" x2="578.6" y2="87.1" stroke="#fff" stroke-opacity="0.13" stroke-width="0.6"/>
<line x1="566.0" y1="76.6" x2="566.0" y2="98.8" stroke="#fff" stroke-opacity="0.08" stroke-width="0.4"/>
<line x1="556.4" y1="93.4" x2="578.6" y2="93.4" stroke="#fff" stroke-opacity="0.15" stroke-width="0.7"/>
<line x1="574.2" y1="76.6" x2="574.2" y2="98.8" stroke="#fff" stroke-opacity="0.10" stroke-width="0.5"/>
<line x1="556.4" y1="82.8" x2="578.6" y2="82.8" stroke="#fff" stroke-opacity="0.11" stroke-width="0.8"/>
<line x1="564.7" y1="76.6" x2="564.7" y2="98.8" stroke="#fff" stroke-opacity="0.11" stroke-width="0.7"/>
<line x1="556.4" y1="80.8" x2="578.6" y2="80.8" stroke="#fff" stroke-opacity="0.08" stroke-width="0.7"/>
<line x1="573.2" y1="76.6" x2="573.2" y2="98.8" stroke="#fff" stroke-opacity="0.11" stroke-width="0.7"/>
<line x1="556.4" y1="77.4" x2="578.6" y2="77.4" stroke="#fff" stroke-opacity="0.12" stroke-width="0.7"/>
<line x1="562.0" y1="76.6" x2="562.0" y2="98.8" stroke="#fff" stroke-opacity="0.12" stroke-width="0.7"/>
<line x1="556.4" y1="89.7" x2="578.6" y2="89.7" stroke="#fff" stroke-opacity="0.08" stroke-width="0.8"/>
<rect x="578.6" y="53.7" width="23.0" height="22.9" fill="url(#gD)"/>
<rect x="578.6" y="73.7" width="3.0" height="3.0" fill="#e53a3a" fill-opacity="0.22"/>
<rect x="580.5" y="70.7" width="4.0" height="4.0" fill="#e53a3a" fill-opacity="0.11"/>
<rect x="584.5" y="66.5" width="4.2" height="4.2" fill="#e53a3a" fill-opacity="0.16"/>
<rect x="588.7" y="58.4" width="8.2" height="8.2" fill="#e53a3a" fill-opacity="0.09"/>
<rect x="595.2" y="54.1" width="6.1" height="6.1" fill="#e53a3a" fill-opacity="0.18"/>
<rect x="599.4" y="53.7" width="2.2" height="2.2" fill="#e53a3a" fill-opacity="0.08"/>
<rect x="578.6" y="53.7" width="23.0" height="22.9" fill="#ee6060" fill-opacity="0.04"/>
<line x1="591.3" y1="53.7" x2="591.3" y2="76.6" stroke="#fff" stroke-opacity="0.07" stroke-width="0.5"/>
<line x1="578.6" y1="61.4" x2="601.6" y2="61.4" stroke="#fff" stroke-opacity="0.07" stroke-width="0.4"/>
<line x1="599.9" y1="53.7" x2="599.9" y2="76.6" stroke="#fff" stroke-opacity="0.13" stroke-width="0.5"/>
<line x1="578.6" y1="70.0" x2="601.6" y2="70.0" stroke="#fff" stroke-opacity="0.06" stroke-width="0.5"/>
<line x1="600.7" y1="53.7" x2="600.7" y2="76.6" stroke="#fff" stroke-opacity="0.20" stroke-width="0.7"/>
<line x1="578.6" y1="55.9" x2="601.6" y2="55.9" stroke="#fff" stroke-opacity="0.11" stroke-width="0.4"/>
<line x1="583.6" y1="53.7" x2="583.6" y2="76.6" stroke="#fff" stroke-opacity="0.06" stroke-width="0.5"/>
<line x1="578.6" y1="68.3" x2="601.6" y2="68.3" stroke="#fff" stroke-opacity="0.08" stroke-width="0.5"/>
<line x1="599.4" y1="53.7" x2="599.4" y2="76.6" stroke="#fff" stroke-opacity="0.11" stroke-width="0.6"/>
<line x1="578.6" y1="55.7" x2="601.6" y2="55.7" stroke="#fff" stroke-opacity="0.19" stroke-width="0.7"/>
<line x1="591.2" y1="53.7" x2="591.2" y2="76.6" stroke="#fff" stroke-opacity="0.16" stroke-width="0.5"/>
<line x1="578.6" y1="59.7" x2="601.6" y2="59.7" stroke="#fff" stroke-opacity="0.15" stroke-width="0.9"/>
<line x1="597.4" y1="53.7" x2="597.4" y2="76.6" stroke="#fff" stroke-opacity="0.16" stroke-width="0.7"/>
<line x1="578.6" y1="54.1" x2="601.6" y2="54.1" stroke="#fff" stroke-opacity="0.20" stroke-width="0.4"/>
<line x1="581.6" y1="53.7" x2="581.6" y2="76.6" stroke="#fff" stroke-opacity="0.17" stroke-width="0.8"/>
<line x1="578.6" y1="71.8" x2="601.6" y2="71.8" stroke="#fff" stroke-opacity="0.13" stroke-width="0.5"/>
<line x1="579.4" y1="53.7" x2="579.4" y2="76.6" stroke="#fff" stroke-opacity="0.20" stroke-width="0.9"/>
<line x1="578.6" y1="59.3" x2="601.6" y2="59.3" stroke="#fff" stroke-opacity="0.20" stroke-width="0.6"/>
<line x1="585.8" y1="53.7" x2="585.8" y2="76.6" stroke="#fff" stroke-opacity="0.14" stroke-width="0.4"/>
<line x1="578.6" y1="63.9" x2="601.6" y2="63.9" stroke="#fff" stroke-opacity="0.09" stroke-width="0.8"/>
<line x1="590.2" y1="53.7" x2="590.2" y2="76.6" stroke="#fff" stroke-opacity="0.20" stroke-width="0.8"/>
<line x1="578.6" y1="61.0" x2="601.6" y2="61.0" stroke="#fff" stroke-opacity="0.10" stroke-width="0.9"/>
<line x1="590.2" y1="53.7" x2="590.2" y2="76.6" stroke="#fff" stroke-opacity="0.08" stroke-width="0.4"/>
<line x1="578.6" y1="76.5" x2="601.6" y2="76.5" stroke="#fff" stroke-opacity="0.15" stroke-width="0.4"/>
<line x1="590.4" y1="53.7" x2="590.4" y2="76.6" stroke="#fff" stroke-opacity="0.14" stroke-width="0.6"/>
<line x1="578.6" y1="75.6" x2="601.6" y2="75.6" stroke="#fff" stroke-opacity="0.21" stroke-width="0.5"/>
<line x1="582.1" y1="53.7" x2="582.1" y2="76.6" stroke="#fff" stroke-opacity="0.13" stroke-width="0.8"/>
<line x1="578.6" y1="68.1" x2="601.6" y2="68.1" stroke="#fff" stroke-opacity="0.18" stroke-width="0.7"/>
<rect x="601.6" y="30.8" width="23.0" height="22.9" fill="url(#gD)"/>
<rect x="601.6" y="50.0" width="3.8" height="3.7" fill="#e53a3a" fill-opacity="0.19"/>
<rect x="603.7" y="45.0" width="6.7" height="6.7" fill="#e53a3a" fill-opacity="0.11"/>
<rect x="608.8" y="38.2" width="8.4" height="8.3" fill="#e53a3a" fill-opacity="0.16"/>
<rect x="613.6" y="36.7" width="5.1" height="5.1" fill="#e53a3a" fill-opacity="0.17"/>
<rect x="616.5" y="34.9" width="4.0" height="4.0" fill="#e53a3a" fill-opacity="0.08"/>
<rect x="619.7" y="30.9" width="4.8" height="4.8" fill="#e53a3a" fill-opacity="0.15"/>
<rect x="623.0" y="30.8" width="1.6" height="1.6" fill="#e53a3a" fill-opacity="0.10"/>
<rect x="601.6" y="30.8" width="23.0" height="22.9" fill="#ee6060" fill-opacity="0.04"/>
<line x1="623.7" y1="30.8" x2="623.7" y2="53.7" stroke="#fff" stroke-opacity="0.14" stroke-width="0.6"/>
<line x1="601.6" y1="50.6" x2="624.6" y2="50.6" stroke="#fff" stroke-opacity="0.11" stroke-width="0.8"/>
<line x1="608.2" y1="30.8" x2="608.2" y2="53.7" stroke="#fff" stroke-opacity="0.18" stroke-width="0.6"/>
<line x1="601.6" y1="44.7" x2="624.6" y2="44.7" stroke="#fff" stroke-opacity="0.21" stroke-width="0.4"/>
<line x1="620.2" y1="30.8" x2="620.2" y2="53.7" stroke="#fff" stroke-opacity="0.15" stroke-width="0.6"/>
<line x1="601.6" y1="38.9" x2="624.6" y2="38.9" stroke="#fff" stroke-opacity="0.07" stroke-width="0.5"/>
<line x1="615.9" y1="30.8" x2="615.9" y2="53.7" stroke="#fff" stroke-opacity="0.08" stroke-width="0.7"/>
<line x1="601.6" y1="52.9" x2="624.6" y2="52.9" stroke="#fff" stroke-opacity="0.22" stroke-width="0.8"/>
<line x1="620.2" y1="30.8" x2="620.2" y2="53.7" stroke="#fff" stroke-opacity="0.09" stroke-width="0.9"/>
<line x1="601.6" y1="35.5" x2="624.6" y2="35.5" stroke="#fff" stroke-opacity="0.20" stroke-width="0.8"/>
<line x1="615.9" y1="30.8" x2="615.9" y2="53.7" stroke="#fff" stroke-opacity="0.14" stroke-width="0.5"/>
<line x1="601.6" y1="42.7" x2="624.6" y2="42.7" stroke="#fff" stroke-opacity="0.11" stroke-width="0.5"/>
<line x1="604.5" y1="30.8" x2="604.5" y2="53.7" stroke="#fff" stroke-opacity="0.19" stroke-width="0.9"/>
<line x1="601.6" y1="34.1" x2="624.6" y2="34.1" stroke="#fff" stroke-opacity="0.06" stroke-width="0.5"/>
<line x1="604.7" y1="30.8" x2="604.7" y2="53.7" stroke="#fff" stroke-opacity="0.09" stroke-width="0.7"/>
<line x1="601.6" y1="40.5" x2="624.6" y2="40.5" stroke="#fff" stroke-opacity="0.13" stroke-width="0.5"/>
<line x1="616.9" y1="30.8" x2="616.9" y2="53.7" stroke="#fff" stroke-opacity="0.11" stroke-width="0.6"/>
<line x1="601.6" y1="41.5" x2="624.6" y2="41.5" stroke="#fff" stroke-opacity="0.20" stroke-width="0.5"/>
<line x1="618.1" y1="30.8" x2="618.1" y2="53.7" stroke="#fff" stroke-opacity="0.11" stroke-width="0.8"/>
<line x1="601.6" y1="39.9" x2="624.6" y2="39.9" stroke="#fff" stroke-opacity="0.14" stroke-width="0.8"/>
<line x1="617.1" y1="30.8" x2="617.1" y2="53.7" stroke="#fff" stroke-opacity="0.08" stroke-width="0.5"/>
<line x1="601.6" y1="53.6" x2="624.6" y2="53.6" stroke="#fff" stroke-opacity="0.06" stroke-width="0.6"/>
<line x1="623.7" y1="30.8" x2="623.7" y2="53.7" stroke="#fff" stroke-opacity="0.06" stroke-width="0.5"/>
<line x1="601.6" y1="35.7" x2="624.6" y2="35.7" stroke="#fff" stroke-opacity="0.07" stroke-width="0.6"/>
<line x1="615.2" y1="30.8" x2="615.2" y2="53.7" stroke="#fff" stroke-opacity="0.11" stroke-width="0.5"/>
<line x1="601.6" y1="49.5" x2="624.6" y2="49.5" stroke="#fff" stroke-opacity="0.19" stroke-width="0.7"/>
<line x1="604.8" y1="30.8" x2="604.8" y2="53.7" stroke="#fff" stroke-opacity="0.15" stroke-width="0.7"/>
<line x1="601.6" y1="40.7" x2="624.6" y2="40.7" stroke="#fff" stroke-opacity="0.20" stroke-width="0.6"/>
<rect x="405.6" y="30.8" width="2.7" height="239.2" fill="#fff" fill-opacity="0.92"/>
<rect x="384.6" y="246.4" width="240.0" height="2.7" fill="#fff" fill-opacity="0.92"/>
<rect x="406.1" y="247.0" width="1.6" height="1.6" fill="#e02020"/>
<line x1="408.4" y1="30.8" x2="408.4" y2="270.0" stroke="#909090" stroke-width="0.55"/>
<line x1="384.6" y1="246.3" x2="624.6" y2="246.3" stroke="#909090" stroke-width="0.55"/>
<line x1="431.5" y1="30.8" x2="431.5" y2="270.0" stroke="#909090" stroke-width="0.55"/>
<line x1="384.6" y1="223.3" x2="624.6" y2="223.3" stroke="#909090" stroke-width="0.55"/>
<line x1="450.5" y1="30.8" x2="450.5" y2="270.0" stroke="#909090" stroke-width="0.55"/>
<line x1="384.6" y1="204.3" x2="624.6" y2="204.3" stroke="#909090" stroke-width="0.55"/>
<line x1="471.3" y1="30.8" x2="471.3" y2="270.0" stroke="#909090" stroke-width="0.55"/>
<line x1="384.6" y1="183.6" x2="624.6" y2="183.6" stroke="#909090" stroke-width="0.55"/>
<line x1="487.4" y1="30.8" x2="487.4" y2="270.0" stroke="#909090" stroke-width="0.55"/>
<line x1="384.6" y1="167.5" x2="624.6" y2="167.5" stroke="#909090" stroke-width="0.55"/>
<line x1="507.6" y1="30.8" x2="507.6" y2="270.0" stroke="#909090" stroke-width="0.55"/>
<line x1="384.6" y1="147.4" x2="624.6" y2="147.4" stroke="#909090" stroke-width="0.55"/>
<line x1="534.7" y1="30.8" x2="534.7" y2="270.0" stroke="#909090" stroke-width="0.55"/>
<line x1="384.6" y1="120.4" x2="624.6" y2="120.4" stroke="#909090" stroke-width="0.55"/>
<line x1="556.4" y1="30.8" x2="556.4" y2="270.0" stroke="#909090" stroke-width="0.55"/>
<line x1="384.6" y1="98.8" x2="624.6" y2="98.8" stroke="#909090" stroke-width="0.55"/>
<line x1="578.6" y1="30.8" x2="578.6" y2="270.0" stroke="#909090" stroke-width="0.55"/>
<line x1="384.6" y1="76.6" x2="624.6" y2="76.6" stroke="#909090" stroke-width="0.55"/>
<line x1="601.6" y1="30.8" x2="601.6" y2="270.0" stroke="#909090" stroke-width="0.55"/>
<line x1="384.6" y1="53.7" x2="624.6" y2="53.7" stroke="#909090" stroke-width="0.55"/>
<line x1="385.9" y1="268.7" x2="404.1" y2="250.6" stroke="#df1e1e" stroke-width="3.1" stroke-linecap="round"/>
<line x1="409.7" y1="245.0" x2="430.2" y2="224.6" stroke="#df1e1e" stroke-width="3.1" stroke-linecap="round"/>
<line x1="432.8" y1="222.0" x2="449.2" y2="205.6" stroke="#df1e1e" stroke-width="3.1" stroke-linecap="round"/>
<line x1="451.8" y1="203.0" x2="470.0" y2="184.9" stroke="#df1e1e" stroke-width="3.1" stroke-linecap="round"/>
<line x1="472.6" y1="182.3" x2="486.1" y2="168.8" stroke="#df1e1e" stroke-width="3.1" stroke-linecap="round"/>
<line x1="488.7" y1="166.2" x2="506.3" y2="148.7" stroke="#df1e1e" stroke-width="3.1" stroke-linecap="round"/>
<line x1="508.9" y1="146.1" x2="533.4" y2="121.7" stroke="#df1e1e" stroke-width="3.1" stroke-linecap="round"/>
<line x1="536.0" y1="119.1" x2="555.1" y2="100.1" stroke="#df1e1e" stroke-width="3.1" stroke-linecap="round"/>
<line x1="557.7" y1="97.5" x2="577.3" y2="77.9" stroke="#df1e1e" stroke-width="3.1" stroke-linecap="round"/>
<line x1="579.9" y1="75.4" x2="600.3" y2="55.0" stroke="#df1e1e" stroke-width="3.1" stroke-linecap="round"/>
<line x1="602.9" y1="52.4" x2="623.3" y2="32.1" stroke="#df1e1e" stroke-width="3.1" stroke-linecap="round"/>
</g>
<rect x="384.6" y="30.8" width="240.0" height="239.2" fill="none" stroke="#000" stroke-width="1.1"/>
<line x1="381.2" y1="258.1" x2="384.6" y2="258.1" stroke="#000" stroke-width="1"/>
<text x="367.4" y="261.4" class="r" style="font-size:9.5px" text-anchor="middle">Chr1</text>
<line x1="381.2" y1="234.8" x2="384.6" y2="234.8" stroke="#000" stroke-width="1"/>
<text x="367.4" y="238.1" class="r" style="font-size:9.5px" text-anchor="middle">Chr2</text>
<line x1="381.2" y1="213.8" x2="384.6" y2="213.8" stroke="#000" stroke-width="1"/>
<text x="367.4" y="217.1" class="r" style="font-size:9.5px" text-anchor="middle">Chr3</text>
<line x1="381.2" y1="194.0" x2="384.6" y2="194.0" stroke="#000" stroke-width="1"/>
<text x="367.4" y="197.3" class="r" style="font-size:9.5px" text-anchor="middle">Chr4</text>
<line x1="381.2" y1="175.6" x2="384.6" y2="175.6" stroke="#000" stroke-width="1"/>
<text x="367.4" y="178.9" class="r" style="font-size:9.5px" text-anchor="middle">Chr5</text>
<line x1="381.2" y1="157.5" x2="384.6" y2="157.5" stroke="#000" stroke-width="1"/>
<text x="367.4" y="160.8" class="r" style="font-size:9.5px" text-anchor="middle">Chr6</text>
<line x1="381.2" y1="133.9" x2="384.6" y2="133.9" stroke="#000" stroke-width="1"/>
<text x="367.4" y="137.2" class="r" style="font-size:9.5px" text-anchor="middle">Chr7</text>
<line x1="381.2" y1="109.6" x2="384.6" y2="109.6" stroke="#000" stroke-width="1"/>
<text x="367.4" y="112.9" class="r" style="font-size:9.5px" text-anchor="middle">Chr8</text>
<line x1="381.2" y1="87.7" x2="384.6" y2="87.7" stroke="#000" stroke-width="1"/>
<text x="367.4" y="91.0" class="r" style="font-size:9.5px" text-anchor="middle">Chr9</text>
<line x1="381.2" y1="65.2" x2="384.6" y2="65.2" stroke="#000" stroke-width="1"/>
<text x="367.4" y="68.5" class="r" style="font-size:9.5px" text-anchor="middle">Chr10</text>
<line x1="381.2" y1="42.3" x2="384.6" y2="42.3" stroke="#000" stroke-width="1"/>
<text x="367.4" y="45.6" class="r" style="font-size:9.5px" text-anchor="middle">Chr11</text>
<line x1="384.7" y1="270.0" x2="384.7" y2="273.3" stroke="#000" stroke-width="1"/>
<text x="384.8" y="282.7" class="r" text-anchor="middle">0</text>
<line x1="427.1" y1="270.0" x2="427.1" y2="273.3" stroke="#000" stroke-width="1"/>
<text x="429.8" y="282.7" class="r" text-anchor="middle">100</text>
<line x1="469.5" y1="270.0" x2="469.5" y2="273.3" stroke="#000" stroke-width="1"/>
<text x="472.2" y="282.7" class="r" text-anchor="middle">200</text>
<line x1="512.0" y1="270.0" x2="512.0" y2="273.3" stroke="#000" stroke-width="1"/>
<text x="514.7" y="282.7" class="r" text-anchor="middle">300</text>
<line x1="554.4" y1="270.0" x2="554.4" y2="273.3" stroke="#000" stroke-width="1"/>
<text x="557.1" y="282.7" class="r" text-anchor="middle">400</text>
<line x1="596.8" y1="270.0" x2="596.8" y2="273.3" stroke="#000" stroke-width="1"/>
<text x="599.5" y="282.7" class="r" text-anchor="middle">500</text>
<text x="506.85" y="21.6" class="r" text-anchor="middle">Hi-C contact map (bin size: 500 Kb, x-axis unit: Mb)</text>
<rect x="639.4" y="87.4" width="6.9" height="126.5" fill="url(#gBar)" stroke="#000" stroke-width="1"/>
<line x1="646.3" y1="213.9" x2="649.2" y2="213.9" stroke="#000" stroke-width="0.9"/>
<text x="652" y="216.1" class="r">0.000</text>
<line x1="646.3" y1="185.8" x2="649.2" y2="185.8" stroke="#000" stroke-width="0.9"/>
<text x="652" y="187.9" class="r">0.002</text>
<line x1="646.3" y1="157.6" x2="649.2" y2="157.6" stroke="#000" stroke-width="0.9"/>
<text x="652" y="159.8" class="r">0.004</text>
<line x1="646.3" y1="129.5" x2="649.2" y2="129.5" stroke="#000" stroke-width="0.9"/>
<text x="652" y="131.7" class="r">0.006</text>
<line x1="646.3" y1="101.3" x2="649.2" y2="101.3" stroke="#000" stroke-width="0.9"/>
<text x="652" y="103.5" class="r">0.008</text>
<text transform="translate(683.6,148.3) rotate(-90)" class="r" style="font-size:8.9px" text-anchor="middle">KR normalized counts</text>
</svg>
</body></html>
